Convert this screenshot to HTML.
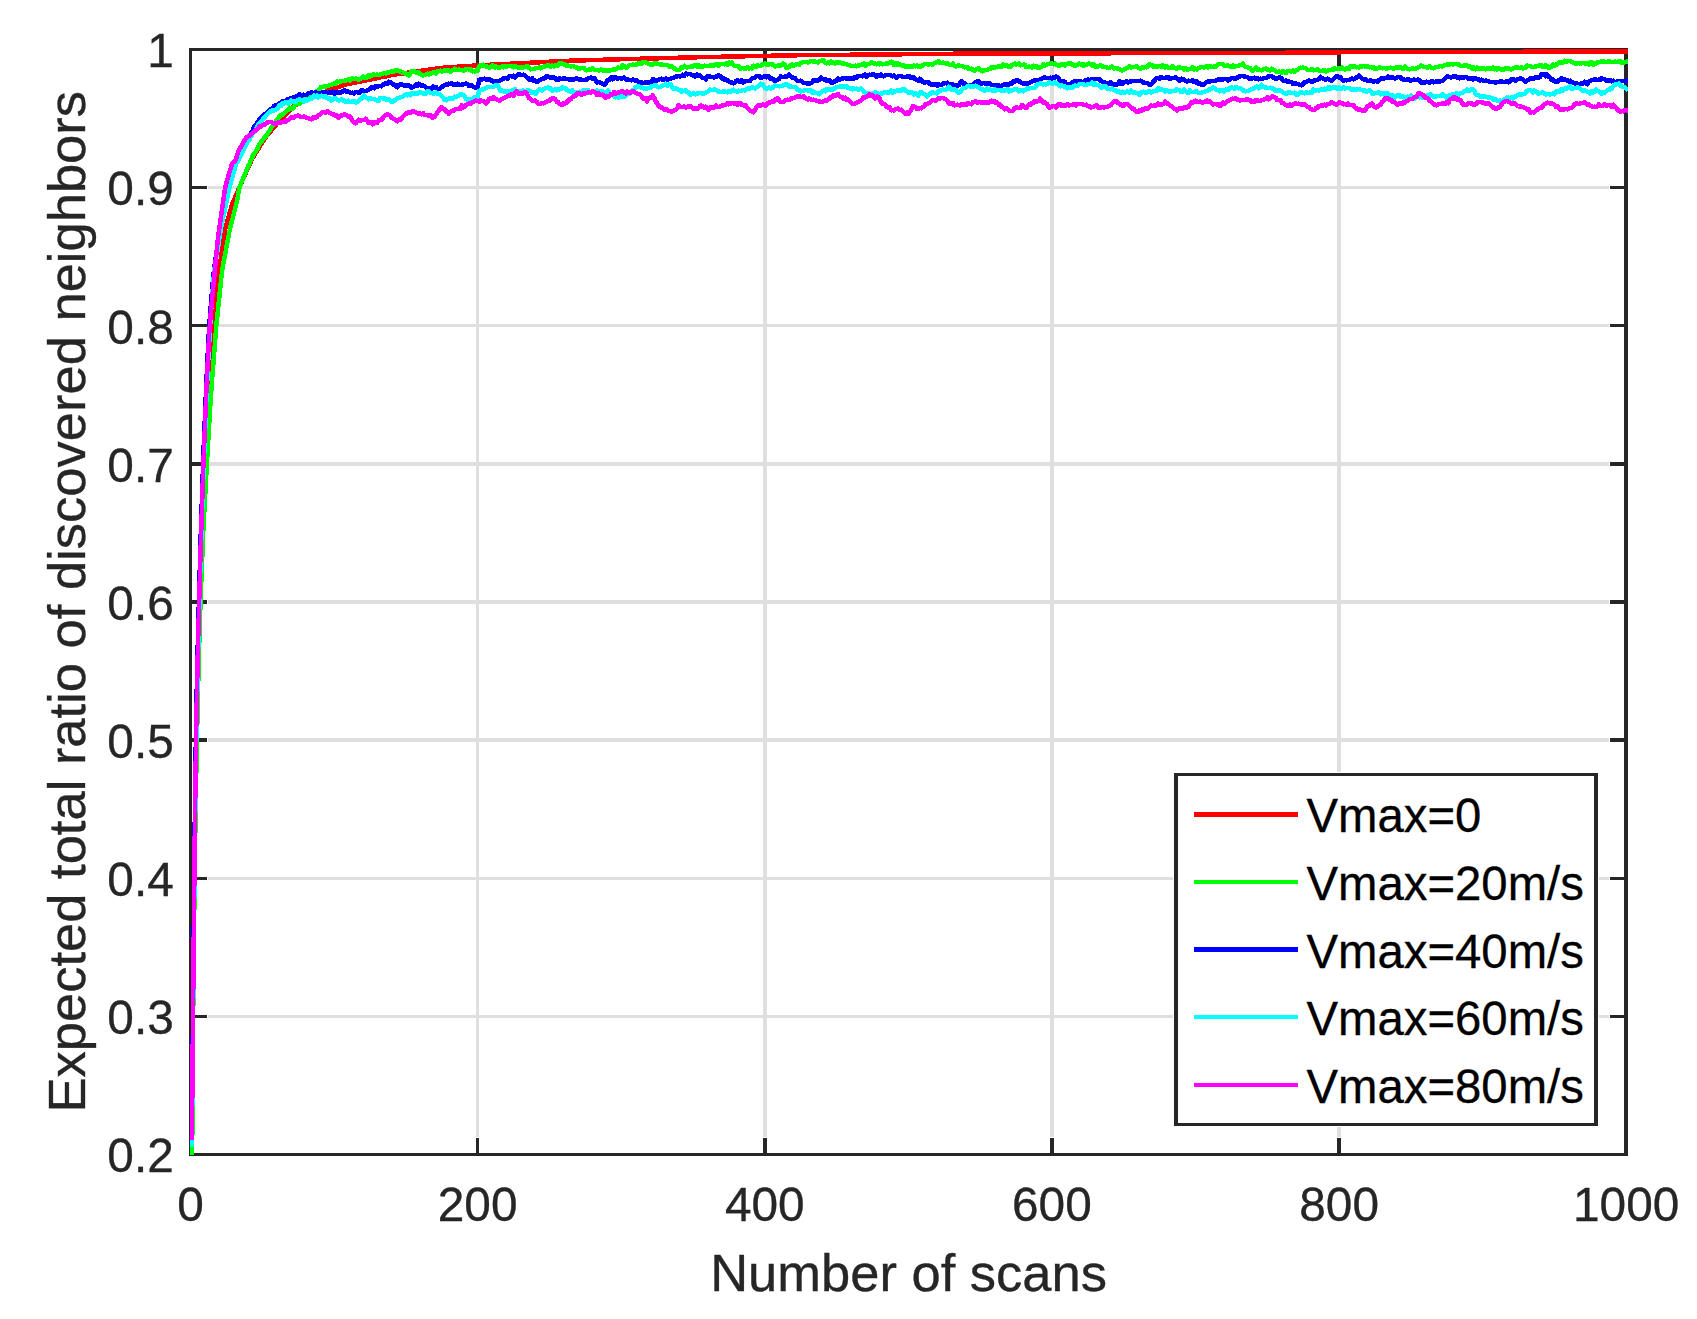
<!DOCTYPE html>
<html lang="en"><head><meta charset="utf-8"><title>Expected total ratio of discovered neighbors</title>
<style>html,body{margin:0;padding:0;background:#fff;}body{width:1697px;height:1319px;overflow:hidden;}svg{display:block;}text{font-family:"Liberation Sans",Arial,Helvetica,sans-serif;}</style></head><body>
<svg width="1697" height="1319" viewBox="0 0 1697 1319">
<rect x="0" y="0" width="1697" height="1319" fill="#ffffff"/>
<g fill="#dfdfdf">
<rect x="476" y="67" width="3" height="1070"/>
<rect x="763" y="67" width="4" height="1070"/>
<rect x="1050" y="67" width="4" height="1070"/>
<rect x="1337" y="67" width="4" height="1070"/>
<rect x="208" y="1015" width="1401" height="3"/>
<rect x="208" y="877" width="1401" height="3"/>
<rect x="208" y="738" width="1401" height="4"/>
<rect x="208" y="600" width="1401" height="4"/>
<rect x="208" y="462" width="1401" height="4"/>
<rect x="208" y="324" width="1401" height="3"/>
<rect x="208" y="186" width="1401" height="3"/>
</g>
<g fill="#262626">
<rect x="189" y="48" width="3" height="1108"/>
<rect x="189" y="48" width="1439" height="3"/>
<rect x="189" y="1153" width="1439" height="3"/>
<rect x="1624" y="48" width="4" height="1108"/>
<rect x="476" y="1138" width="3" height="18"/>
<rect x="476" y="48" width="3" height="18"/>
<rect x="763" y="1138" width="4" height="18"/>
<rect x="763" y="48" width="4" height="18"/>
<rect x="1050" y="1138" width="4" height="18"/>
<rect x="1050" y="48" width="4" height="18"/>
<rect x="1337" y="1138" width="4" height="18"/>
<rect x="1337" y="48" width="4" height="18"/>
<rect x="189" y="1015" width="18" height="3"/>
<rect x="1610" y="1015" width="18" height="3"/>
<rect x="189" y="877" width="18" height="3"/>
<rect x="1610" y="877" width="18" height="3"/>
<rect x="189" y="738" width="18" height="4"/>
<rect x="1610" y="738" width="18" height="4"/>
<rect x="189" y="600" width="18" height="4"/>
<rect x="1610" y="600" width="18" height="4"/>
<rect x="189" y="462" width="18" height="4"/>
<rect x="1610" y="462" width="18" height="4"/>
<rect x="189" y="324" width="18" height="3"/>
<rect x="1610" y="324" width="18" height="3"/>
<rect x="189" y="186" width="18" height="3"/>
<rect x="1610" y="186" width="18" height="3"/>
</g>
<defs><clipPath id="axclip"><rect x="189" y="48" width="1439" height="1107"/></clipPath></defs>
<g fill="none" stroke-width="4.5" stroke-linejoin="round" stroke-linecap="square" shape-rendering="crispEdges" clip-path="url(#axclip)">
<polyline stroke="#ff0000" points="191.9,1133.8 193.4,974.9 194.8,843.7 196.2,746.3 197.7,675.9 199.1,622.1 200.5,574.4 202.0,529.3 203.4,493.0 204.9,458.6 206.3,432.0 207.7,405.4 209.2,383.3 210.6,364.1 212.0,344.9 213.5,325.7 214.9,311.9 216.3,298.1 217.8,284.3 219.2,270.5 220.6,260.2 222.1,250.0 223.5,239.7 225.0,229.9 226.4,224.8 227.8,219.6 229.3,214.5 230.7,209.3 232.1,204.2 233.6,200.9 235.0,197.6 236.4,194.3 237.9,190.9 239.3,187.6 240.7,184.4 242.2,181.2 243.6,178.0 245.1,174.7 246.5,171.5 247.9,168.3 249.4,165.1 250.8,161.8 252.2,158.6 253.7,156.3 255.1,154.0 256.5,151.7 258.0,149.4 259.4,147.1 260.8,144.8 262.3,142.5 263.7,140.2 265.2,137.9 266.6,136.2 268.0,134.4 269.5,132.7 270.9,131.0 272.3,129.3 273.8,127.5 275.2,125.8 276.6,124.1 278.1,122.4 279.5,120.6 280.9,119.2 282.4,117.7 283.8,116.2 285.3,114.7 286.7,113.2 288.1,111.8 289.6,110.3 291.0,108.8 292.4,107.3 293.9,105.9 295.3,105.2 296.7,104.5 298.2,103.8 299.6,103.2 301.0,102.5 302.5,101.8 303.9,101.1 305.4,100.5 306.8,99.8 308.2,99.1 309.7,98.4 311.1,97.8 312.5,97.1 314.0,96.4 315.4,95.7 316.8,95.1 318.3,94.4 319.7,93.7 321.1,93.2 322.6,92.7 324.0,92.2 325.5,91.6 326.9,91.1 328.3,90.6 329.8,90.1 331.2,89.6 332.6,89.1 334.1,88.6 335.5,88.0 336.9,87.5 338.4,87.0 339.8,86.5 341.2,86.0 342.7,85.5 344.1,85.0 345.6,84.4 347.0,84.2 348.4,83.9 349.9,83.6 351.3,83.3 352.7,83.0 354.2,82.7 355.6,82.4 357.0,82.1 358.5,81.9 359.9,81.6 361.3,81.3 362.8,81.0 364.2,80.7 365.7,80.4 367.1,80.1 368.5,79.8 370.0,79.5 371.4,79.3 372.8,79.0 374.3,78.7 375.7,78.4 377.1,78.1 378.6,77.8 380.0,77.5 381.4,77.2 382.9,77.0 384.3,76.7 385.8,76.4 387.2,76.1 388.6,75.8 390.1,75.5 391.5,75.2 392.9,74.9 394.4,74.7 395.8,74.4 397.2,74.2 398.7,74.0 400.1,73.8 401.5,73.6 403.0,73.4 404.4,73.2 405.9,72.9 407.3,72.7 408.7,72.5 410.2,72.3 411.6,72.1 413.0,71.9 414.5,71.7 415.9,71.5 417.3,71.3 418.8,71.1 420.2,70.9 421.6,70.7 423.1,70.5 424.5,70.3 426.0,70.1 427.4,69.9 428.8,69.7 430.3,69.5 431.7,69.3 433.1,69.1 434.6,68.9 436.0,68.7 437.4,68.5 438.9,68.3 440.3,68.1 441.7,67.9 443.2,67.7 444.6,67.5 446.1,67.5 447.5,67.4 448.9,67.3 450.4,67.2 451.8,67.1 453.2,67.0 454.7,66.9 456.1,66.8 457.5,66.7 459.0,66.6 460.4,66.5 461.8,66.4 463.3,66.3 464.7,66.2 466.2,66.1 467.6,66.0 469.0,65.9 470.5,65.9 471.9,65.8 473.3,65.7 474.8,65.6 476.2,65.5 477.6,65.4 479.1,65.3 480.5,65.2 481.9,65.2 483.4,65.1 484.8,65.0 486.3,64.9 487.7,64.9 489.1,64.8 490.6,64.7 492.0,64.7 493.4,64.6 494.9,64.5 496.3,64.4 497.7,64.4 499.2,64.3 500.6,64.2 502.0,64.1 503.5,64.1 504.9,64.0 506.4,63.9 507.8,63.9 509.2,63.8 510.7,63.7 512.1,63.6 513.5,63.6 515.0,63.5 516.4,63.4 517.8,63.3 519.3,63.3 520.7,63.2 522.1,63.1 523.6,63.1 525.0,63.0 526.5,62.9 527.9,62.8 529.3,62.8 530.8,62.7 532.2,62.6 533.6,62.5 535.1,62.5 536.5,62.4 537.9,62.3 539.4,62.3 540.8,62.2 542.2,62.1 543.7,62.0 545.1,62.0 546.6,61.9 548.0,61.8 549.4,61.7 550.9,61.7 552.3,61.6 553.7,61.5 555.2,61.5 556.6,61.4 558.0,61.3 559.5,61.2 560.9,61.2 562.3,61.1 563.8,61.0 565.2,60.9 566.7,60.9 568.1,60.8 569.5,60.7 571.0,60.7 572.4,60.6 573.8,60.6 575.3,60.5 576.7,60.5 578.1,60.5 579.6,60.4 581.0,60.4 582.4,60.3 583.9,60.3 585.3,60.3 586.8,60.2 588.2,60.2 589.6,60.1 591.1,60.1 592.5,60.1 593.9,60.0 595.4,60.0 596.8,59.9 598.2,59.9 599.7,59.9 601.1,59.8 602.5,59.8 604.0,59.7 605.4,59.7 606.9,59.7 608.3,59.6 609.7,59.6 611.2,59.5 612.6,59.5 614.0,59.5 615.5,59.4 616.9,59.4 618.3,59.3 619.8,59.3 621.2,59.2 622.6,59.2 624.1,59.2 625.5,59.1 627.0,59.1 628.4,59.1 629.8,59.0 631.3,59.0 632.7,58.9 634.1,58.9 635.6,58.9 637.0,58.8 638.4,58.8 639.9,58.8 641.3,58.7 642.7,58.7 644.2,58.6 645.6,58.6 647.1,58.6 648.5,58.5 649.9,58.5 651.4,58.4 652.8,58.4 654.2,58.4 655.7,58.3 657.1,58.3 658.5,58.3 660.0,58.2 661.4,58.2 662.8,58.1 664.3,58.1 665.7,58.1 667.2,58.0 668.6,58.0 670.0,58.0 671.5,57.9 672.9,57.9 674.3,57.8 675.8,57.8 677.2,57.8 678.6,57.7 680.1,57.7 681.5,57.6 682.9,57.6 684.4,57.6 685.8,57.5 687.3,57.5 688.7,57.5 690.1,57.4 691.6,57.4 693.0,57.3 694.4,57.3 695.9,57.3 697.3,57.2 698.7,57.2 700.2,57.2 701.6,57.1 703.0,57.1 704.5,57.1 705.9,57.0 707.4,57.0 708.8,57.0 710.2,57.0 711.7,56.9 713.1,56.9 714.5,56.9 716.0,56.8 717.4,56.8 718.8,56.8 720.3,56.8 721.7,56.7 723.1,56.7 724.6,56.7 726.0,56.6 727.5,56.6 728.9,56.6 730.3,56.6 731.8,56.5 733.2,56.5 734.6,56.5 736.1,56.4 737.5,56.4 738.9,56.4 740.4,56.4 741.8,56.3 743.2,56.3 744.7,56.3 746.1,56.2 747.6,56.2 749.0,56.2 750.4,56.2 751.9,56.1 753.3,56.1 754.7,56.1 756.2,56.1 757.6,56.0 759.0,56.0 760.5,56.0 761.9,55.9 763.3,55.9 764.8,55.9 766.2,55.9 767.7,55.8 769.1,55.8 770.5,55.8 772.0,55.7 773.4,55.7 774.8,55.7 776.3,55.7 777.7,55.6 779.1,55.6 780.6,55.6 782.0,55.5 783.4,55.5 784.9,55.5 786.3,55.5 787.8,55.4 789.2,55.4 790.6,55.4 792.1,55.3 793.5,55.3 794.9,55.3 796.4,55.3 797.8,55.2 799.2,55.2 800.7,55.2 802.1,55.2 803.5,55.2 805.0,55.2 806.4,55.1 807.9,55.1 809.3,55.1 810.7,55.1 812.2,55.1 813.6,55.1 815.0,55.1 816.5,55.1 817.9,55.0 819.3,55.0 820.8,55.0 822.2,55.0 823.6,55.0 825.1,55.0 826.5,55.0 828.0,55.0 829.4,54.9 830.8,54.9 832.3,54.9 833.7,54.9 835.1,54.9 836.6,54.9 838.0,54.9 839.4,54.9 840.9,54.8 842.3,54.8 843.7,54.8 845.2,54.8 846.6,54.8 848.1,54.8 849.5,54.8 850.9,54.7 852.4,54.7 853.8,54.7 855.2,54.7 856.7,54.7 858.1,54.7 859.5,54.7 861.0,54.6 862.4,54.6 863.8,54.6 865.3,54.6 866.7,54.6 868.2,54.6 869.6,54.6 871.0,54.6 872.5,54.5 873.9,54.5 875.3,54.5 876.8,54.5 878.2,54.5 879.6,54.5 881.1,54.5 882.5,54.4 883.9,54.4 885.4,54.4 886.8,54.4 888.3,54.4 889.7,54.4 891.1,54.4 892.6,54.3 894.0,54.3 895.4,54.3 896.9,54.3 898.3,54.3 899.7,54.3 901.2,54.3 902.6,54.2 904.0,54.2 905.5,54.2 906.9,54.2 908.4,54.2 909.8,54.2 911.2,54.2 912.7,54.1 914.1,54.1 915.5,54.1 917.0,54.1 918.4,54.1 919.8,54.1 921.3,54.1 922.7,54.0 924.1,54.0 925.6,54.0 927.0,54.0 928.4,54.0 929.9,54.0 931.3,54.0 932.8,54.0 934.2,53.9 935.6,53.9 937.1,53.9 938.5,53.9 939.9,53.9 941.4,53.9 942.8,53.9 944.2,53.8 945.7,53.8 947.1,53.8 948.5,53.8 950.0,53.8 951.4,53.8 952.9,53.8 954.3,53.7 955.7,53.7 957.2,53.7 958.6,53.7 960.0,53.7 961.5,53.7 962.9,53.7 964.3,53.7 965.8,53.7 967.2,53.7 968.6,53.7 970.1,53.7 971.5,53.7 973.0,53.7 974.4,53.7 975.8,53.7 977.3,53.7 978.7,53.7 980.1,53.7 981.6,53.7 983.0,53.7 984.4,53.7 985.9,53.6 987.3,53.6 988.7,53.6 990.2,53.6 991.6,53.6 993.1,53.6 994.5,53.6 995.9,53.6 997.4,53.6 998.8,53.6 1000.2,53.6 1001.7,53.6 1003.1,53.6 1004.5,53.6 1006.0,53.6 1007.4,53.6 1008.8,53.6 1010.3,53.6 1011.7,53.6 1013.2,53.6 1014.6,53.6 1016.0,53.6 1017.5,53.5 1018.9,53.5 1020.3,53.5 1021.8,53.5 1023.2,53.5 1024.6,53.5 1026.1,53.5 1027.5,53.5 1028.9,53.5 1030.4,53.5 1031.8,53.5 1033.3,53.5 1034.7,53.5 1036.1,53.5 1037.6,53.5 1039.0,53.5 1040.4,53.5 1041.9,53.5 1043.3,53.5 1044.7,53.5 1046.2,53.5 1047.6,53.5 1049.0,53.4 1050.5,53.4 1051.9,53.4 1053.4,53.4 1054.8,53.4 1056.2,53.4 1057.7,53.4 1059.1,53.4 1060.5,53.4 1062.0,53.4 1063.4,53.4 1064.8,53.4 1066.3,53.4 1067.7,53.4 1069.1,53.4 1070.6,53.4 1072.0,53.4 1073.5,53.4 1074.9,53.4 1076.3,53.4 1077.8,53.4 1079.2,53.4 1080.6,53.3 1082.1,53.3 1083.5,53.3 1084.9,53.3 1086.4,53.3 1087.8,53.3 1089.2,53.3 1090.7,53.3 1092.1,53.3 1093.6,53.3 1095.0,53.3 1096.4,53.3 1097.9,53.3 1099.3,53.3 1100.7,53.3 1102.2,53.3 1103.6,53.3 1105.0,53.3 1106.5,53.3 1107.9,53.3 1109.3,53.3 1110.8,53.3 1112.2,53.2 1113.7,53.2 1115.1,53.2 1116.5,53.2 1118.0,53.2 1119.4,53.2 1120.8,53.2 1122.3,53.2 1123.7,53.2 1125.1,53.2 1126.6,53.2 1128.0,53.2 1129.4,53.2 1130.9,53.2 1132.3,53.2 1133.8,53.2 1135.2,53.2 1136.6,53.2 1138.1,53.2 1139.5,53.2 1140.9,53.2 1142.4,53.2 1143.8,53.2 1145.2,53.2 1146.7,53.1 1148.1,53.1 1149.5,53.1 1151.0,53.1 1152.4,53.1 1153.9,53.1 1155.3,53.1 1156.7,53.1 1158.2,53.1 1159.6,53.1 1161.0,53.1 1162.5,53.1 1163.9,53.1 1165.3,53.1 1166.8,53.1 1168.2,53.1 1169.6,53.1 1171.1,53.1 1172.5,53.1 1174.0,53.1 1175.4,53.1 1176.8,53.1 1178.3,53.1 1179.7,53.1 1181.1,53.0 1182.6,53.0 1184.0,53.0 1185.4,53.0 1186.9,53.0 1188.3,53.0 1189.7,53.0 1191.2,53.0 1192.6,53.0 1194.1,53.0 1195.5,53.0 1196.9,53.0 1198.4,53.0 1199.8,53.0 1201.2,53.0 1202.7,53.0 1204.1,53.0 1205.5,53.0 1207.0,53.0 1208.4,53.0 1209.8,53.0 1211.3,53.0 1212.7,53.0 1214.2,53.0 1215.6,52.9 1217.0,52.9 1218.5,52.9 1219.9,52.9 1221.3,52.9 1222.8,52.9 1224.2,52.9 1225.6,52.9 1227.1,52.9 1228.5,52.9 1229.9,52.9 1231.4,52.9 1232.8,52.9 1234.3,52.9 1235.7,52.9 1237.1,52.9 1238.6,52.9 1240.0,52.9 1241.4,52.9 1242.9,52.9 1244.3,52.9 1245.7,52.9 1247.2,52.9 1248.6,52.9 1250.0,52.8 1251.5,52.8 1252.9,52.8 1254.4,52.8 1255.8,52.8 1257.2,52.8 1258.7,52.8 1260.1,52.8 1261.5,52.8 1263.0,52.8 1264.4,52.8 1265.8,52.8 1267.3,52.8 1268.7,52.8 1270.1,52.8 1271.6,52.8 1273.0,52.8 1274.5,52.8 1275.9,52.8 1277.3,52.8 1278.8,52.8 1280.2,52.8 1281.6,52.8 1283.1,52.8 1284.5,52.8 1285.9,52.7 1287.4,52.7 1288.8,52.7 1290.2,52.7 1291.7,52.7 1293.1,52.7 1294.6,52.7 1296.0,52.7 1297.4,52.6 1298.9,52.6 1300.3,52.6 1301.7,52.6 1303.2,52.6 1304.6,52.6 1306.0,52.6 1307.5,52.6 1308.9,52.5 1310.3,52.5 1311.8,52.5 1313.2,52.5 1314.7,52.5 1316.1,52.5 1317.5,52.5 1319.0,52.5 1320.4,52.4 1321.8,52.4 1323.3,52.4 1324.7,52.4 1326.1,52.4 1327.6,52.4 1329.0,52.4 1330.4,52.3 1331.9,52.3 1333.3,52.3 1334.8,52.3 1336.2,52.3 1337.6,52.3 1339.1,52.3 1340.5,52.3 1341.9,52.2 1343.4,52.2 1344.8,52.2 1346.2,52.2 1347.7,52.2 1349.1,52.2 1350.5,52.2 1352.0,52.2 1353.4,52.2 1354.9,52.2 1356.3,52.2 1357.7,52.2 1359.2,52.2 1360.6,52.2 1362.0,52.2 1363.5,52.2 1364.9,52.2 1366.3,52.2 1367.8,52.2 1369.2,52.2 1370.6,52.2 1372.1,52.2 1373.5,52.2 1375.0,52.1 1376.4,52.1 1377.8,52.1 1379.3,52.1 1380.7,52.1 1382.1,52.1 1383.6,52.1 1385.0,52.1 1386.4,52.1 1387.9,52.1 1389.3,52.1 1390.7,52.1 1392.2,52.1 1393.6,52.1 1395.1,52.1 1396.5,52.1 1397.9,52.1 1399.4,52.1 1400.8,52.1 1402.2,52.1 1403.7,52.1 1405.1,52.1 1406.5,52.1 1408.0,52.1 1409.4,52.1 1410.8,52.0 1412.3,52.0 1413.7,52.0 1415.2,52.0 1416.6,52.0 1418.0,52.0 1419.5,52.0 1420.9,52.0 1422.3,52.0 1423.8,52.0 1425.2,52.0 1426.6,52.0 1428.1,52.0 1429.5,52.0 1430.9,52.0 1432.4,52.0 1433.8,52.0 1435.3,52.0 1436.7,52.0 1438.1,52.0 1439.6,52.0 1441.0,52.0 1442.4,52.0 1443.9,52.0 1445.3,52.0 1446.7,51.9 1448.2,51.9 1449.6,51.9 1451.0,51.9 1452.5,51.9 1453.9,51.9 1455.4,51.9 1456.8,51.9 1458.2,51.9 1459.7,51.9 1461.1,51.9 1462.5,51.9 1464.0,51.9 1465.4,51.9 1466.8,51.9 1468.3,51.9 1469.7,51.9 1471.1,51.9 1472.6,51.9 1474.0,51.9 1475.5,51.9 1476.9,51.9 1478.3,51.9 1479.8,51.9 1481.2,51.9 1482.6,51.8 1484.1,51.8 1485.5,51.8 1486.9,51.8 1488.4,51.8 1489.8,51.8 1491.2,51.8 1492.7,51.8 1494.1,51.8 1495.6,51.8 1497.0,51.8 1498.4,51.8 1499.9,51.8 1501.3,51.8 1502.7,51.8 1504.2,51.8 1505.6,51.8 1507.0,51.8 1508.5,51.8 1509.9,51.8 1511.3,51.8 1512.8,51.8 1514.2,51.8 1515.7,51.8 1517.1,51.8 1518.5,51.8 1520.0,51.8 1521.4,51.8 1522.8,51.8 1524.3,51.7 1525.7,51.7 1527.1,51.7 1528.6,51.7 1530.0,51.7 1531.4,51.7 1532.9,51.7 1534.3,51.7 1535.8,51.7 1537.2,51.7 1538.6,51.7 1540.1,51.7 1541.5,51.7 1542.9,51.7 1544.4,51.7 1545.8,51.7 1547.2,51.7 1548.7,51.7 1550.1,51.7 1551.5,51.7 1553.0,51.7 1554.4,51.7 1555.9,51.7 1557.3,51.7 1558.7,51.7 1560.2,51.7 1561.6,51.7 1563.0,51.7 1564.5,51.7 1565.9,51.6 1567.3,51.6 1568.8,51.6 1570.2,51.6 1571.6,51.6 1573.1,51.6 1574.5,51.6 1576.0,51.6 1577.4,51.6 1578.8,51.6 1580.3,51.6 1581.7,51.6 1583.1,51.6 1584.6,51.6 1586.0,51.6 1587.4,51.6 1588.9,51.6 1590.3,51.6 1591.7,51.6 1593.2,51.6 1594.6,51.6 1596.1,51.6 1597.5,51.6 1598.9,51.6 1600.4,51.6 1601.8,51.6 1603.2,51.6 1604.7,51.6 1606.1,51.6 1607.5,51.5 1609.0,51.5 1610.4,51.5 1611.8,51.5 1613.3,51.5 1614.7,51.5 1616.2,51.5 1617.6,51.5 1619.0,51.5 1620.5,51.5 1621.9,51.5 1623.3,51.5 1624.8,51.5 1626.2,51.5"/>
<polyline stroke="#00ff00" points="191.9,1182.1 193.4,988.7 194.8,861.0 196.2,776.5 197.7,702.5 199.1,648.0 200.5,602.0 202.0,563.6 203.4,527.6 204.9,501.1 206.3,474.5 207.7,449.1 209.2,424.4 210.6,399.7 212.0,380.3 213.5,362.1 214.9,343.9 216.3,325.7 217.8,311.9 219.2,298.1 220.6,284.3 222.1,270.5 223.5,262.8 225.0,255.1 226.4,247.4 227.8,239.7 229.3,232.0 230.7,225.9 232.1,220.4 233.6,214.7 235.0,209.1 236.4,203.5 237.9,196.3 239.3,188.1 240.7,184.3 242.2,180.9 243.6,177.3 245.1,174.1 246.5,170.3 247.9,166.7 249.4,163.9 250.8,160.3 252.2,157.1 253.7,154.1 255.1,152.4 256.5,150.4 258.0,147.6 259.4,144.5 260.8,142.4 262.3,140.7 263.7,138.7 265.2,136.5 266.6,135.4 268.0,133.1 269.5,130.7 270.9,128.1 272.3,126.3 273.8,123.6 275.2,122.2 276.6,120.1 278.1,119.1 279.5,116.4 280.9,115.2 282.4,114.6 283.8,113.6 285.3,112.5 286.7,110.9 288.1,109.9 289.6,107.6 291.0,108.6 292.4,109.1 293.9,107.1 295.3,105.3 296.7,103.2 298.2,102.5 299.6,103.9 301.0,101.8 302.5,99.9 303.9,100.1 305.4,97.5 306.8,97.1 308.2,96.6 309.7,95.5 311.1,94.5 312.5,93.0 314.0,93.0 315.4,92.5 316.8,91.2 318.3,90.1 319.7,89.4 321.1,86.8 322.6,86.8 324.0,86.6 325.5,86.8 326.9,86.1 328.3,85.7 329.8,85.3 331.2,84.7 332.6,84.2 334.1,83.4 335.5,83.5 336.9,81.3 338.4,82.2 339.8,81.7 341.2,81.5 342.7,81.0 344.1,80.7 345.6,80.4 347.0,80.3 348.4,79.2 349.9,80.5 351.3,79.1 352.7,78.4 354.2,79.2 355.6,78.5 357.0,79.0 358.5,79.6 359.9,79.1 361.3,78.0 362.8,76.6 364.2,77.6 365.7,77.1 367.1,77.5 368.5,74.9 370.0,76.6 371.4,75.7 372.8,74.5 374.3,74.6 375.7,75.2 377.1,74.5 378.6,75.2 380.0,74.6 381.4,74.0 382.9,73.8 384.3,72.9 385.8,73.4 387.2,72.4 388.6,72.9 390.1,72.0 391.5,71.3 392.9,71.8 394.4,71.2 395.8,70.1 397.2,70.3 398.7,71.2 400.1,71.2 401.5,72.5 403.0,72.6 404.4,73.3 405.9,73.3 407.3,74.4 408.7,75.6 410.2,73.5 411.6,71.2 413.0,71.8 414.5,71.5 415.9,72.3 417.3,72.7 418.8,72.6 420.2,74.2 421.6,74.9 423.1,75.6 424.5,75.1 426.0,74.7 427.4,73.6 428.8,74.4 430.3,73.4 431.7,73.3 433.1,72.2 434.6,72.6 436.0,73.3 437.4,71.5 438.9,71.2 440.3,70.7 441.7,71.4 443.2,71.2 444.6,70.4 446.1,70.8 447.5,70.5 448.9,70.2 450.4,71.6 451.8,70.5 453.2,69.9 454.7,68.7 456.1,69.4 457.5,70.0 459.0,69.6 460.4,69.9 461.8,69.8 463.3,70.7 464.7,70.0 466.2,69.1 467.6,69.1 469.0,69.5 470.5,69.0 471.9,71.3 473.3,71.2 474.8,71.4 476.2,70.3 477.6,70.8 479.1,66.2 480.5,65.3 481.9,66.0 483.4,64.8 484.8,66.0 486.3,66.4 487.7,66.7 489.1,67.8 490.6,67.5 492.0,65.2 493.4,66.0 494.9,67.6 496.3,66.6 497.7,67.2 499.2,68.1 500.6,67.2 502.0,66.5 503.5,67.4 504.9,66.0 506.4,66.7 507.8,66.3 509.2,66.1 510.7,65.8 512.1,66.5 513.5,67.4 515.0,66.0 516.4,67.2 517.8,67.2 519.3,68.0 520.7,66.9 522.1,67.4 523.6,67.3 525.0,66.9 526.5,66.5 527.9,66.6 529.3,68.3 530.8,69.3 532.2,69.2 533.6,69.2 535.1,68.7 536.5,67.9 537.9,68.1 539.4,67.1 540.8,68.3 542.2,67.1 543.7,66.5 545.1,66.6 546.6,65.6 548.0,65.0 549.4,66.3 550.9,66.4 552.3,65.5 553.7,66.6 555.2,65.3 556.6,65.1 558.0,65.7 559.5,63.0 560.9,62.8 562.3,63.5 563.8,64.2 565.2,64.8 566.7,66.2 568.1,65.3 569.5,66.1 571.0,66.4 572.4,66.2 573.8,66.3 575.3,67.2 576.7,67.5 578.1,68.4 579.6,68.8 581.0,68.0 582.4,68.1 583.9,68.0 585.3,69.6 586.8,70.3 588.2,70.0 589.6,69.0 591.1,69.4 592.5,68.2 593.9,69.7 595.4,70.2 596.8,69.9 598.2,70.3 599.7,70.3 601.1,69.6 602.5,70.1 604.0,70.7 605.4,70.7 606.9,70.4 608.3,70.6 609.7,70.6 611.2,70.2 612.6,69.9 614.0,69.3 615.5,69.4 616.9,68.3 618.3,67.6 619.8,68.0 621.2,68.2 622.6,65.3 624.1,66.2 625.5,67.2 627.0,67.6 628.4,66.2 629.8,65.0 631.3,65.1 632.7,64.6 634.1,65.1 635.6,64.6 637.0,64.6 638.4,63.4 639.9,63.0 641.3,64.1 642.7,62.1 644.2,62.1 645.6,62.2 647.1,62.8 648.5,63.6 649.9,64.5 651.4,63.8 652.8,64.8 654.2,63.3 655.7,64.0 657.1,63.5 658.5,64.0 660.0,64.7 661.4,64.0 662.8,64.9 664.3,64.9 665.7,65.0 667.2,65.1 668.6,66.1 670.0,67.2 671.5,66.2 672.9,67.3 674.3,68.4 675.8,69.4 677.2,70.0 678.6,70.2 680.1,69.2 681.5,67.5 682.9,67.6 684.4,65.8 685.8,67.3 687.3,67.3 688.7,67.1 690.1,67.1 691.6,66.3 693.0,66.4 694.4,65.4 695.9,65.4 697.3,66.9 698.7,65.2 700.2,66.6 701.6,66.5 703.0,66.4 704.5,65.7 705.9,66.2 707.4,65.8 708.8,65.9 710.2,65.2 711.7,66.2 713.1,65.0 714.5,65.4 716.0,64.1 717.4,64.2 718.8,65.8 720.3,64.5 721.7,63.8 723.1,64.0 724.6,64.3 726.0,63.2 727.5,64.5 728.9,62.3 730.3,64.0 731.8,62.6 733.2,64.8 734.6,66.1 736.1,66.1 737.5,65.8 738.9,66.8 740.4,68.9 741.8,68.2 743.2,68.3 744.7,68.7 746.1,68.5 747.6,67.1 749.0,68.4 750.4,67.8 751.9,68.7 753.3,65.7 754.7,66.7 756.2,66.9 757.6,65.2 759.0,65.8 760.5,65.8 761.9,64.7 763.3,64.5 764.8,63.4 766.2,64.6 767.7,64.2 769.1,64.7 770.5,63.9 772.0,64.3 773.4,64.8 774.8,66.5 776.3,65.9 777.7,65.7 779.1,65.1 780.6,65.8 782.0,64.7 783.4,63.5 784.9,64.3 786.3,67.6 787.8,67.8 789.2,67.0 790.6,64.9 792.1,64.4 793.5,65.9 794.9,65.1 796.4,64.2 797.8,63.8 799.2,64.8 800.7,62.8 802.1,62.5 803.5,62.0 805.0,62.1 806.4,62.1 807.9,62.5 809.3,62.2 810.7,61.0 812.2,61.3 813.6,61.7 815.0,61.7 816.5,61.8 817.9,62.5 819.3,61.3 820.8,60.9 822.2,60.5 823.6,60.4 825.1,62.8 826.5,63.4 828.0,62.3 829.4,63.2 830.8,61.7 832.3,62.9 833.7,62.7 835.1,63.4 836.6,62.0 838.0,62.8 839.4,62.6 840.9,62.7 842.3,63.8 843.7,63.3 845.2,63.8 846.6,64.4 848.1,65.1 849.5,65.0 850.9,65.9 852.4,66.2 853.8,65.9 855.2,65.7 856.7,66.4 858.1,65.2 859.5,65.3 861.0,64.9 862.4,64.6 863.8,63.5 865.3,65.8 866.7,64.5 868.2,64.0 869.6,64.0 871.0,62.2 872.5,62.9 873.9,63.5 875.3,63.7 876.8,64.3 878.2,63.1 879.6,64.4 881.1,63.4 882.5,64.4 883.9,64.1 885.4,63.8 886.8,63.0 888.3,63.5 889.7,62.5 891.1,61.7 892.6,61.9 894.0,64.9 895.4,64.7 896.9,63.0 898.3,64.5 899.7,64.3 901.2,65.0 902.6,65.7 904.0,65.4 905.5,66.6 906.9,65.9 908.4,66.7 909.8,66.3 911.2,66.4 912.7,66.6 914.1,65.6 915.5,66.5 917.0,65.6 918.4,66.5 919.8,66.7 921.3,66.6 922.7,65.4 924.1,64.5 925.6,64.1 927.0,64.1 928.4,64.7 929.9,63.9 931.3,63.8 932.8,64.7 934.2,63.0 935.6,63.0 937.1,61.7 938.5,61.4 939.9,63.1 941.4,62.9 942.8,62.5 944.2,62.8 945.7,63.5 947.1,63.2 948.5,64.4 950.0,65.3 951.4,65.1 952.9,63.6 954.3,66.1 955.7,66.5 957.2,65.9 958.6,65.2 960.0,66.2 961.5,65.8 962.9,66.5 964.3,67.3 965.8,66.8 967.2,67.3 968.6,68.7 970.1,69.0 971.5,68.6 973.0,69.9 974.4,70.8 975.8,70.0 977.3,68.7 978.7,68.3 980.1,70.1 981.6,70.5 983.0,71.3 984.4,70.0 985.9,70.0 987.3,70.0 988.7,68.8 990.2,68.8 991.6,67.2 993.1,67.7 994.5,67.7 995.9,67.3 997.4,66.8 998.8,66.2 1000.2,66.5 1001.7,67.0 1003.1,64.5 1004.5,65.5 1006.0,65.0 1007.4,66.2 1008.8,66.8 1010.3,66.9 1011.7,65.2 1013.2,64.6 1014.6,63.5 1016.0,64.5 1017.5,63.9 1018.9,63.6 1020.3,65.3 1021.8,65.2 1023.2,64.8 1024.6,64.6 1026.1,67.1 1027.5,67.1 1028.9,66.5 1030.4,67.0 1031.8,67.4 1033.3,65.7 1034.7,67.2 1036.1,66.2 1037.6,67.8 1039.0,68.3 1040.4,67.1 1041.9,66.8 1043.3,64.4 1044.7,65.6 1046.2,64.7 1047.6,64.3 1049.0,63.8 1050.5,63.5 1051.9,63.3 1053.4,64.3 1054.8,63.6 1056.2,65.0 1057.7,65.1 1059.1,65.9 1060.5,65.0 1062.0,64.0 1063.4,64.4 1064.8,65.4 1066.3,64.0 1067.7,64.1 1069.1,62.9 1070.6,63.4 1072.0,63.9 1073.5,65.5 1074.9,65.9 1076.3,64.9 1077.8,64.8 1079.2,63.5 1080.6,64.3 1082.1,64.1 1083.5,65.8 1084.9,64.7 1086.4,65.0 1087.8,64.1 1089.2,63.6 1090.7,64.4 1092.1,65.4 1093.6,64.2 1095.0,66.5 1096.4,66.5 1097.9,66.3 1099.3,66.2 1100.7,65.1 1102.2,67.0 1103.6,66.7 1105.0,66.9 1106.5,66.9 1107.9,67.8 1109.3,68.2 1110.8,67.0 1112.2,66.4 1113.7,68.4 1115.1,68.1 1116.5,67.9 1118.0,68.8 1119.4,69.3 1120.8,69.9 1122.3,70.5 1123.7,69.5 1125.1,69.0 1126.6,68.4 1128.0,67.7 1129.4,66.4 1130.9,67.5 1132.3,67.2 1133.8,67.2 1135.2,66.8 1136.6,66.5 1138.1,67.9 1139.5,67.9 1140.9,68.9 1142.4,67.5 1143.8,67.6 1145.2,66.8 1146.7,67.3 1148.1,66.0 1149.5,64.4 1151.0,65.0 1152.4,65.2 1153.9,66.9 1155.3,66.8 1156.7,66.4 1158.2,66.4 1159.6,65.8 1161.0,66.5 1162.5,65.5 1163.9,66.8 1165.3,67.6 1166.8,66.2 1168.2,67.4 1169.6,68.2 1171.1,68.1 1172.5,66.5 1174.0,67.3 1175.4,68.2 1176.8,68.5 1178.3,67.6 1179.7,67.0 1181.1,68.2 1182.6,68.3 1184.0,69.4 1185.4,68.4 1186.9,69.4 1188.3,69.4 1189.7,69.1 1191.2,69.1 1192.6,67.4 1194.1,69.4 1195.5,68.7 1196.9,69.6 1198.4,67.8 1199.8,67.7 1201.2,66.8 1202.7,66.9 1204.1,67.4 1205.5,67.0 1207.0,66.2 1208.4,67.5 1209.8,66.2 1211.3,66.6 1212.7,67.0 1214.2,66.6 1215.6,66.7 1217.0,65.2 1218.5,64.3 1219.9,64.2 1221.3,64.2 1222.8,64.1 1224.2,65.4 1225.6,66.2 1227.1,65.5 1228.5,65.5 1229.9,66.4 1231.4,66.7 1232.8,65.5 1234.3,66.6 1235.7,65.9 1237.1,65.8 1238.6,65.8 1240.0,65.2 1241.4,65.2 1242.9,63.5 1244.3,65.9 1245.7,66.7 1247.2,67.3 1248.6,67.8 1250.0,68.1 1251.5,70.1 1252.9,70.9 1254.4,69.2 1255.8,67.7 1257.2,69.7 1258.7,69.7 1260.1,69.8 1261.5,70.3 1263.0,69.4 1264.4,69.2 1265.8,68.6 1267.3,69.9 1268.7,69.7 1270.1,70.4 1271.6,68.8 1273.0,70.1 1274.5,70.4 1275.9,71.4 1277.3,72.1 1278.8,71.6 1280.2,72.0 1281.6,72.7 1283.1,70.8 1284.5,72.2 1285.9,73.1 1287.4,71.0 1288.8,71.0 1290.2,71.3 1291.7,71.3 1293.1,70.5 1294.6,71.6 1296.0,70.5 1297.4,69.9 1298.9,68.6 1300.3,67.7 1301.7,67.8 1303.2,67.7 1304.6,68.2 1306.0,68.5 1307.5,69.8 1308.9,69.8 1310.3,70.1 1311.8,68.9 1313.2,70.3 1314.7,70.0 1316.1,70.1 1317.5,69.1 1319.0,70.5 1320.4,70.9 1321.8,71.0 1323.3,70.3 1324.7,70.2 1326.1,71.4 1327.6,70.9 1329.0,70.1 1330.4,69.9 1331.9,69.5 1333.3,69.9 1334.8,68.3 1336.2,68.8 1337.6,68.7 1339.1,68.5 1340.5,69.0 1341.9,67.4 1343.4,69.0 1344.8,69.5 1346.2,68.5 1347.7,68.0 1349.1,68.9 1350.5,66.2 1352.0,66.4 1353.4,66.6 1354.9,66.3 1356.3,67.4 1357.7,67.2 1359.2,67.5 1360.6,65.9 1362.0,66.6 1363.5,66.0 1364.9,66.3 1366.3,66.5 1367.8,66.6 1369.2,67.3 1370.6,66.8 1372.1,67.5 1373.5,67.4 1375.0,69.1 1376.4,68.8 1377.8,68.0 1379.3,67.5 1380.7,67.9 1382.1,68.3 1383.6,68.1 1385.0,67.8 1386.4,68.5 1387.9,68.3 1389.3,68.1 1390.7,67.7 1392.2,67.9 1393.6,68.7 1395.1,67.8 1396.5,67.3 1397.9,67.4 1399.4,67.4 1400.8,67.6 1402.2,68.8 1403.7,68.5 1405.1,66.7 1406.5,68.3 1408.0,69.0 1409.4,69.3 1410.8,69.1 1412.3,68.3 1413.7,68.9 1415.2,69.0 1416.6,68.3 1418.0,67.7 1419.5,66.6 1420.9,65.5 1422.3,66.1 1423.8,66.8 1425.2,67.0 1426.6,67.4 1428.1,67.6 1429.5,66.3 1430.9,67.5 1432.4,67.8 1433.8,68.3 1435.3,67.5 1436.7,67.0 1438.1,66.7 1439.6,66.3 1441.0,65.8 1442.4,66.5 1443.9,65.3 1445.3,64.9 1446.7,64.7 1448.2,64.5 1449.6,64.7 1451.0,64.0 1452.5,64.4 1453.9,64.2 1455.4,64.0 1456.8,64.1 1458.2,64.2 1459.7,65.5 1461.1,66.1 1462.5,65.8 1464.0,65.7 1465.4,65.2 1466.8,65.4 1468.3,66.9 1469.7,66.3 1471.1,66.9 1472.6,68.7 1474.0,67.5 1475.5,69.4 1476.9,67.6 1478.3,68.6 1479.8,69.2 1481.2,67.8 1482.6,69.0 1484.1,68.6 1485.5,69.4 1486.9,68.4 1488.4,68.1 1489.8,68.6 1491.2,68.9 1492.7,67.6 1494.1,69.3 1495.6,68.4 1497.0,69.4 1498.4,68.1 1499.9,68.7 1501.3,69.8 1502.7,69.6 1504.2,69.3 1505.6,68.4 1507.0,68.7 1508.5,68.3 1509.9,69.0 1511.3,69.6 1512.8,68.7 1514.2,68.1 1515.7,67.2 1517.1,67.4 1518.5,67.8 1520.0,68.2 1521.4,67.1 1522.8,68.5 1524.3,67.7 1525.7,67.7 1527.1,65.6 1528.6,65.8 1530.0,66.3 1531.4,66.6 1532.9,67.1 1534.3,67.0 1535.8,66.4 1537.2,66.1 1538.6,65.5 1540.1,65.9 1541.5,65.0 1542.9,67.0 1544.4,67.0 1545.8,65.1 1547.2,66.1 1548.7,67.9 1550.1,67.7 1551.5,66.5 1553.0,64.6 1554.4,65.8 1555.9,64.5 1557.3,64.3 1558.7,63.3 1560.2,61.8 1561.6,62.6 1563.0,62.4 1564.5,60.7 1565.9,62.0 1567.3,61.1 1568.8,60.9 1570.2,61.3 1571.6,61.8 1573.1,62.6 1574.5,63.1 1576.0,63.9 1577.4,63.1 1578.8,62.8 1580.3,63.5 1581.7,63.2 1583.1,63.2 1584.6,63.3 1586.0,63.4 1587.4,63.6 1588.9,64.6 1590.3,62.3 1591.7,62.1 1593.2,64.8 1594.6,64.3 1596.1,62.9 1597.5,62.5 1598.9,62.1 1600.4,61.6 1601.8,61.6 1603.2,61.2 1604.7,61.9 1606.1,62.1 1607.5,62.0 1609.0,61.1 1610.4,62.1 1611.8,62.2 1613.3,62.0 1614.7,61.5 1616.2,61.8 1617.6,61.9 1619.0,61.0 1620.5,61.3 1621.9,62.9 1623.3,63.1 1624.8,62.1 1626.2,61.8"/>
<polyline stroke="#0000ff" points="191.9,1133.8 193.4,963.8 194.8,818.2 196.2,715.3 197.7,647.7 199.1,594.6 200.5,542.1 202.0,496.8 203.4,454.7 204.9,417.8 206.3,383.9 207.7,354.8 209.2,325.7 210.6,308.5 212.0,291.2 213.5,274.0 214.9,263.1 216.3,253.9 217.8,244.7 219.2,235.5 220.6,226.3 222.1,219.3 223.5,212.2 225.0,205.2 226.4,198.2 227.8,191.1 229.3,185.2 230.7,180.3 232.1,175.5 233.6,170.6 235.0,165.6 236.4,162.4 237.9,159.5 239.3,156.6 240.7,153.5 242.2,150.1 243.6,147.3 245.1,144.3 246.5,141.6 247.9,138.5 249.4,135.6 250.8,133.1 252.2,131.3 253.7,127.8 255.1,125.2 256.5,123.9 258.0,121.4 259.4,119.1 260.8,117.8 262.3,116.3 263.7,114.6 265.2,114.1 266.6,112.8 268.0,111.7 269.5,109.6 270.9,108.8 272.3,108.3 273.8,106.3 275.2,105.3 276.6,106.0 278.1,104.8 279.5,103.5 280.9,102.3 282.4,101.2 283.8,101.6 285.3,101.0 286.7,99.5 288.1,100.0 289.6,99.1 291.0,97.8 292.4,97.9 293.9,96.9 295.3,96.8 296.7,96.5 298.2,97.3 299.6,94.1 301.0,96.6 302.5,94.9 303.9,94.7 305.4,95.0 306.8,94.9 308.2,93.6 309.7,93.0 311.1,92.2 312.5,93.2 314.0,94.1 315.4,92.3 316.8,93.0 318.3,93.2 319.7,93.3 321.1,93.0 322.6,92.2 324.0,92.2 325.5,91.8 326.9,92.9 328.3,92.8 329.8,92.6 331.2,92.6 332.6,91.7 334.1,93.9 335.5,93.0 336.9,92.1 338.4,92.5 339.8,92.7 341.2,92.7 342.7,91.3 344.1,90.2 345.6,91.1 347.0,91.7 348.4,91.7 349.9,92.3 351.3,93.0 352.7,92.7 354.2,93.7 355.6,92.1 357.0,92.3 358.5,92.8 359.9,92.5 361.3,90.3 362.8,90.3 364.2,91.2 365.7,91.0 367.1,90.7 368.5,89.7 370.0,89.0 371.4,87.5 372.8,86.9 374.3,88.2 375.7,86.1 377.1,86.7 378.6,86.4 380.0,85.9 381.4,86.3 382.9,84.9 384.3,84.0 385.8,83.1 387.2,84.1 388.6,81.7 390.1,82.4 391.5,82.7 392.9,84.3 394.4,84.6 395.8,85.9 397.2,87.3 398.7,84.9 400.1,84.5 401.5,84.4 403.0,85.3 404.4,85.7 405.9,85.5 407.3,86.0 408.7,85.4 410.2,86.1 411.6,87.9 413.0,87.2 414.5,86.2 415.9,84.5 417.3,85.7 418.8,83.8 420.2,85.0 421.6,86.0 423.1,85.6 424.5,86.2 426.0,87.5 427.4,87.8 428.8,87.9 430.3,89.2 431.7,88.6 433.1,86.6 434.6,87.3 436.0,86.8 437.4,89.9 438.9,89.2 440.3,88.1 441.7,86.6 443.2,86.5 444.6,84.9 446.1,84.6 447.5,84.8 448.9,83.7 450.4,84.0 451.8,83.2 453.2,84.9 454.7,84.2 456.1,84.6 457.5,83.6 459.0,85.2 460.4,85.1 461.8,84.9 463.3,84.1 464.7,83.9 466.2,83.5 467.6,84.3 469.0,85.9 470.5,85.7 471.9,85.1 473.3,87.0 474.8,87.5 476.2,87.4 477.6,88.5 479.1,79.9 480.5,79.5 481.9,79.6 483.4,79.2 484.8,78.7 486.3,79.9 487.7,79.5 489.1,79.1 490.6,80.5 492.0,80.5 493.4,82.1 494.9,81.4 496.3,81.2 497.7,81.2 499.2,81.1 500.6,80.3 502.0,79.6 503.5,78.0 504.9,78.3 506.4,78.1 507.8,78.6 509.2,76.3 510.7,76.1 512.1,76.6 513.5,75.7 515.0,77.4 516.4,75.7 517.8,74.7 519.3,73.8 520.7,74.7 522.1,74.9 523.6,74.6 525.0,75.3 526.5,77.4 527.9,78.0 529.3,79.5 530.8,80.0 532.2,78.0 533.6,80.7 535.1,80.3 536.5,81.8 537.9,81.8 539.4,80.2 540.8,79.4 542.2,78.8 543.7,78.4 545.1,78.2 546.6,76.2 548.0,76.5 549.4,77.3 550.9,77.5 552.3,77.6 553.7,77.6 555.2,78.2 556.6,80.1 558.0,80.1 559.5,78.3 560.9,79.0 562.3,78.9 563.8,77.8 565.2,78.9 566.7,79.1 568.1,79.2 569.5,79.4 571.0,79.3 572.4,79.8 573.8,79.6 575.3,78.7 576.7,78.3 578.1,79.0 579.6,79.8 581.0,79.6 582.4,80.0 583.9,80.2 585.3,79.6 586.8,79.6 588.2,78.3 589.6,77.8 591.1,77.6 592.5,79.1 593.9,78.0 595.4,79.6 596.8,82.5 598.2,82.1 599.7,82.4 601.1,83.2 602.5,83.7 604.0,84.8 605.4,84.0 606.9,80.9 608.3,80.0 609.7,80.0 611.2,77.2 612.6,79.3 614.0,77.8 615.5,76.9 616.9,78.6 618.3,78.3 619.8,78.0 621.2,78.7 622.6,78.2 624.1,77.6 625.5,79.2 627.0,79.6 628.4,79.7 629.8,79.8 631.3,80.4 632.7,79.4 634.1,79.8 635.6,81.2 637.0,80.4 638.4,82.1 639.9,81.9 641.3,83.2 642.7,82.7 644.2,83.1 645.6,82.1 647.1,83.0 648.5,82.3 649.9,82.4 651.4,81.8 652.8,79.2 654.2,79.5 655.7,81.4 657.1,80.1 658.5,79.9 660.0,79.2 661.4,78.6 662.8,80.2 664.3,79.4 665.7,78.6 667.2,80.0 668.6,79.1 670.0,79.2 671.5,77.8 672.9,78.3 674.3,77.6 675.8,76.5 677.2,76.6 678.6,76.0 680.1,76.5 681.5,75.9 682.9,74.7 684.4,75.6 685.8,73.4 687.3,74.3 688.7,74.1 690.1,73.8 691.6,74.6 693.0,75.0 694.4,76.4 695.9,76.3 697.3,74.6 698.7,75.3 700.2,75.4 701.6,77.4 703.0,78.3 704.5,77.8 705.9,79.3 707.4,76.2 708.8,75.9 710.2,76.7 711.7,76.8 713.1,77.3 714.5,77.3 716.0,77.2 717.4,75.7 718.8,75.3 720.3,75.9 721.7,78.4 723.1,78.0 724.6,79.6 726.0,79.6 727.5,80.5 728.9,81.3 730.3,82.4 731.8,82.6 733.2,83.3 734.6,83.0 736.1,80.9 737.5,80.4 738.9,81.6 740.4,82.0 741.8,80.1 743.2,82.6 744.7,81.5 746.1,80.8 747.6,81.2 749.0,80.8 750.4,80.6 751.9,78.3 753.3,78.2 754.7,77.8 756.2,76.2 757.6,75.8 759.0,75.8 760.5,77.6 761.9,77.4 763.3,76.9 764.8,76.2 766.2,77.3 767.7,76.4 769.1,76.6 770.5,78.9 772.0,78.3 773.4,79.3 774.8,81.0 776.3,80.1 777.7,79.5 779.1,79.2 780.6,76.5 782.0,77.3 783.4,77.0 784.9,77.2 786.3,75.8 787.8,76.3 789.2,74.7 790.6,76.1 792.1,77.8 793.5,77.6 794.9,77.9 796.4,79.9 797.8,81.2 799.2,81.1 800.7,80.6 802.1,81.4 803.5,83.0 805.0,82.9 806.4,83.4 807.9,83.8 809.3,83.3 810.7,83.3 812.2,82.4 813.6,80.1 815.0,80.4 816.5,80.5 817.9,80.7 819.3,79.7 820.8,77.5 822.2,79.1 823.6,79.3 825.1,79.1 826.5,80.7 828.0,80.7 829.4,80.4 830.8,82.5 832.3,82.7 833.7,82.1 835.1,81.1 836.6,80.7 838.0,78.2 839.4,79.6 840.9,78.9 842.3,78.6 843.7,78.1 845.2,78.3 846.6,79.1 848.1,78.7 849.5,78.1 850.9,78.3 852.4,78.7 853.8,78.5 855.2,76.8 856.7,77.7 858.1,75.8 859.5,76.1 861.0,76.1 862.4,76.3 863.8,75.3 865.3,74.6 866.7,76.8 868.2,75.3 869.6,74.7 871.0,75.3 872.5,74.1 873.9,74.3 875.3,75.4 876.8,76.8 878.2,75.5 879.6,75.8 881.1,74.6 882.5,76.0 883.9,76.3 885.4,74.9 886.8,74.9 888.3,75.2 889.7,75.1 891.1,75.6 892.6,76.3 894.0,75.3 895.4,76.9 896.9,77.9 898.3,76.5 899.7,75.9 901.2,75.9 902.6,77.0 904.0,76.8 905.5,77.0 906.9,76.6 908.4,76.3 909.8,76.4 911.2,78.2 912.7,77.2 914.1,77.4 915.5,79.5 917.0,79.8 918.4,80.8 919.8,78.7 921.3,80.1 922.7,82.2 924.1,82.3 925.6,82.4 927.0,81.8 928.4,82.2 929.9,84.1 931.3,84.6 932.8,83.9 934.2,84.5 935.6,84.4 937.1,85.8 938.5,84.0 939.9,85.1 941.4,85.1 942.8,84.3 944.2,83.0 945.7,83.2 947.1,82.7 948.5,84.9 950.0,84.0 951.4,84.6 952.9,84.4 954.3,85.3 955.7,85.1 957.2,85.8 958.6,85.5 960.0,82.8 961.5,81.3 962.9,83.7 964.3,83.3 965.8,85.0 967.2,86.1 968.6,85.3 970.1,85.3 971.5,84.8 973.0,84.8 974.4,83.3 975.8,82.1 977.3,81.1 978.7,81.1 980.1,83.1 981.6,83.5 983.0,82.9 984.4,83.4 985.9,84.0 987.3,83.6 988.7,83.3 990.2,83.7 991.6,84.9 993.1,84.7 994.5,86.3 995.9,85.8 997.4,85.1 998.8,85.4 1000.2,85.9 1001.7,86.0 1003.1,84.7 1004.5,84.3 1006.0,84.6 1007.4,84.5 1008.8,84.6 1010.3,83.1 1011.7,83.8 1013.2,81.2 1014.6,82.0 1016.0,80.5 1017.5,80.0 1018.9,81.3 1020.3,81.8 1021.8,83.0 1023.2,83.7 1024.6,83.1 1026.1,84.2 1027.5,83.5 1028.9,83.0 1030.4,82.1 1031.8,81.8 1033.3,81.1 1034.7,80.3 1036.1,81.3 1037.6,80.1 1039.0,80.7 1040.4,79.1 1041.9,78.6 1043.3,78.2 1044.7,77.4 1046.2,77.8 1047.6,78.1 1049.0,78.2 1050.5,77.6 1051.9,78.6 1053.4,77.2 1054.8,77.5 1056.2,76.6 1057.7,77.3 1059.1,79.2 1060.5,81.6 1062.0,81.5 1063.4,81.0 1064.8,81.9 1066.3,83.8 1067.7,84.7 1069.1,83.8 1070.6,84.1 1072.0,82.6 1073.5,81.8 1074.9,81.3 1076.3,81.5 1077.8,81.3 1079.2,81.9 1080.6,81.2 1082.1,83.3 1083.5,82.8 1084.9,80.6 1086.4,81.0 1087.8,79.5 1089.2,80.0 1090.7,79.5 1092.1,79.4 1093.6,79.3 1095.0,78.9 1096.4,79.0 1097.9,78.9 1099.3,79.0 1100.7,80.9 1102.2,81.7 1103.6,81.8 1105.0,82.3 1106.5,84.1 1107.9,82.9 1109.3,83.4 1110.8,82.1 1112.2,84.1 1113.7,84.7 1115.1,84.7 1116.5,85.0 1118.0,84.0 1119.4,81.4 1120.8,83.2 1122.3,84.0 1123.7,82.0 1125.1,82.1 1126.6,81.3 1128.0,82.8 1129.4,81.7 1130.9,81.5 1132.3,81.0 1133.8,81.0 1135.2,80.8 1136.6,81.2 1138.1,80.9 1139.5,80.8 1140.9,80.7 1142.4,81.6 1143.8,82.7 1145.2,82.9 1146.7,82.9 1148.1,83.7 1149.5,85.2 1151.0,84.7 1152.4,83.2 1153.9,81.0 1155.3,79.6 1156.7,77.9 1158.2,77.8 1159.6,78.6 1161.0,77.1 1162.5,77.9 1163.9,77.9 1165.3,77.7 1166.8,77.3 1168.2,76.9 1169.6,79.2 1171.1,78.6 1172.5,77.9 1174.0,78.2 1175.4,77.2 1176.8,78.6 1178.3,79.0 1179.7,81.1 1181.1,78.7 1182.6,79.2 1184.0,79.6 1185.4,80.9 1186.9,81.7 1188.3,80.7 1189.7,80.9 1191.2,81.2 1192.6,80.2 1194.1,82.0 1195.5,82.3 1196.9,81.2 1198.4,83.5 1199.8,83.1 1201.2,84.6 1202.7,84.5 1204.1,84.6 1205.5,83.1 1207.0,82.1 1208.4,81.3 1209.8,81.7 1211.3,81.1 1212.7,80.8 1214.2,81.1 1215.6,80.9 1217.0,80.1 1218.5,79.4 1219.9,79.5 1221.3,79.4 1222.8,79.7 1224.2,78.9 1225.6,78.8 1227.1,79.2 1228.5,80.5 1229.9,79.7 1231.4,78.2 1232.8,78.0 1234.3,79.0 1235.7,79.1 1237.1,77.3 1238.6,77.4 1240.0,75.8 1241.4,76.1 1242.9,75.9 1244.3,76.4 1245.7,76.8 1247.2,76.9 1248.6,78.4 1250.0,78.7 1251.5,78.4 1252.9,78.2 1254.4,77.6 1255.8,78.9 1257.2,78.0 1258.7,79.4 1260.1,78.7 1261.5,79.0 1263.0,78.4 1264.4,78.0 1265.8,78.2 1267.3,77.0 1268.7,76.4 1270.1,76.0 1271.6,75.9 1273.0,77.2 1274.5,78.2 1275.9,78.8 1277.3,78.3 1278.8,77.7 1280.2,77.6 1281.6,78.6 1283.1,80.9 1284.5,80.9 1285.9,80.6 1287.4,81.9 1288.8,81.3 1290.2,82.0 1291.7,82.2 1293.1,84.2 1294.6,83.5 1296.0,83.5 1297.4,83.8 1298.9,84.4 1300.3,84.8 1301.7,85.3 1303.2,84.0 1304.6,82.4 1306.0,81.8 1307.5,81.3 1308.9,80.5 1310.3,80.8 1311.8,81.9 1313.2,81.7 1314.7,80.3 1316.1,80.2 1317.5,80.1 1319.0,79.1 1320.4,76.8 1321.8,78.1 1323.3,78.6 1324.7,79.6 1326.1,79.4 1327.6,78.6 1329.0,79.3 1330.4,80.2 1331.9,80.7 1333.3,78.9 1334.8,77.4 1336.2,76.4 1337.6,75.8 1339.1,77.7 1340.5,77.5 1341.9,79.6 1343.4,80.9 1344.8,80.0 1346.2,80.3 1347.7,80.2 1349.1,80.1 1350.5,79.5 1352.0,78.6 1353.4,79.3 1354.9,78.6 1356.3,77.6 1357.7,76.9 1359.2,75.7 1360.6,76.9 1362.0,78.4 1363.5,79.4 1364.9,79.3 1366.3,79.7 1367.8,80.8 1369.2,80.9 1370.6,80.0 1372.1,80.9 1373.5,81.5 1375.0,80.9 1376.4,81.0 1377.8,81.9 1379.3,79.7 1380.7,79.2 1382.1,78.1 1383.6,79.0 1385.0,78.0 1386.4,77.8 1387.9,76.6 1389.3,77.5 1390.7,78.0 1392.2,77.1 1393.6,77.6 1395.1,78.5 1396.5,77.6 1397.9,77.3 1399.4,76.8 1400.8,77.5 1402.2,79.4 1403.7,79.2 1405.1,79.8 1406.5,80.2 1408.0,78.9 1409.4,80.4 1410.8,80.7 1412.3,80.0 1413.7,79.5 1415.2,80.1 1416.6,79.9 1418.0,79.4 1419.5,80.4 1420.9,82.7 1422.3,82.6 1423.8,83.0 1425.2,81.9 1426.6,81.6 1428.1,82.2 1429.5,82.6 1430.9,81.4 1432.4,81.3 1433.8,82.3 1435.3,82.2 1436.7,81.3 1438.1,81.9 1439.6,81.5 1441.0,81.1 1442.4,81.2 1443.9,79.7 1445.3,78.4 1446.7,76.7 1448.2,76.7 1449.6,76.9 1451.0,77.7 1452.5,76.8 1453.9,76.4 1455.4,76.0 1456.8,77.4 1458.2,77.0 1459.7,78.4 1461.1,77.5 1462.5,77.3 1464.0,77.3 1465.4,77.2 1466.8,77.4 1468.3,78.5 1469.7,78.2 1471.1,78.0 1472.6,79.5 1474.0,78.1 1475.5,78.5 1476.9,79.0 1478.3,79.2 1479.8,80.7 1481.2,79.7 1482.6,80.1 1484.1,81.0 1485.5,80.6 1486.9,80.7 1488.4,81.4 1489.8,82.0 1491.2,81.8 1492.7,82.1 1494.1,82.0 1495.6,82.7 1497.0,82.2 1498.4,82.0 1499.9,81.5 1501.3,81.7 1502.7,81.7 1504.2,82.0 1505.6,81.8 1507.0,80.9 1508.5,82.4 1509.9,81.2 1511.3,79.6 1512.8,79.1 1514.2,79.5 1515.7,81.0 1517.1,79.6 1518.5,79.0 1520.0,78.3 1521.4,78.9 1522.8,79.5 1524.3,80.9 1525.7,81.8 1527.1,80.2 1528.6,79.8 1530.0,78.2 1531.4,78.3 1532.9,78.3 1534.3,78.3 1535.8,77.3 1537.2,77.4 1538.6,77.3 1540.1,77.3 1541.5,74.1 1542.9,74.0 1544.4,73.9 1545.8,76.3 1547.2,74.4 1548.7,76.8 1550.1,77.4 1551.5,79.7 1553.0,79.2 1554.4,81.3 1555.9,81.6 1557.3,82.1 1558.7,80.1 1560.2,80.2 1561.6,78.1 1563.0,79.9 1564.5,79.1 1565.9,80.3 1567.3,80.2 1568.8,81.6 1570.2,80.7 1571.6,82.1 1573.1,82.5 1574.5,83.4 1576.0,83.5 1577.4,83.6 1578.8,84.6 1580.3,84.1 1581.7,83.1 1583.1,83.4 1584.6,81.6 1586.0,82.1 1587.4,84.3 1588.9,81.7 1590.3,80.8 1591.7,80.0 1593.2,79.9 1594.6,79.4 1596.1,79.3 1597.5,80.2 1598.9,79.6 1600.4,79.7 1601.8,78.3 1603.2,78.8 1604.7,79.5 1606.1,80.5 1607.5,80.8 1609.0,80.5 1610.4,79.9 1611.8,81.3 1613.3,80.7 1614.7,82.6 1616.2,82.5 1617.6,81.1 1619.0,80.8 1620.5,81.2 1621.9,81.0 1623.3,81.0 1624.8,81.4 1626.2,80.9"/>
<polyline stroke="#00ffff" points="191.9,1144.7 193.4,985.3 194.8,845.1 196.2,744.2 197.7,669.4 199.1,615.3 200.5,564.6 202.0,517.0 203.4,474.5 204.9,437.0 206.3,401.1 207.7,371.3 209.2,342.8 210.6,318.1 212.0,299.1 213.5,280.0 214.9,266.1 216.3,257.2 217.8,248.4 219.2,239.6 220.6,230.7 222.1,222.8 223.5,215.9 225.0,209.0 226.4,202.1 227.8,195.1 229.3,188.2 230.7,182.9 232.1,177.8 233.6,172.7 235.0,167.5 236.4,163.6 237.9,160.9 239.3,158.1 240.7,155.4 242.2,153.1 243.6,149.9 245.1,147.0 246.5,144.0 247.9,141.6 249.4,139.9 250.8,136.7 252.2,134.7 253.7,132.2 255.1,130.6 256.5,127.7 258.0,125.3 259.4,122.8 260.8,121.9 262.3,120.1 263.7,118.3 265.2,116.6 266.6,114.9 268.0,113.5 269.5,111.8 270.9,111.4 272.3,110.5 273.8,110.6 275.2,110.1 276.6,109.4 278.1,108.0 279.5,105.2 280.9,106.2 282.4,103.3 283.8,103.6 285.3,102.0 286.7,102.2 288.1,103.5 289.6,102.6 291.0,100.3 292.4,101.9 293.9,100.9 295.3,102.0 296.7,100.7 298.2,100.0 299.6,99.1 301.0,100.1 302.5,99.8 303.9,101.6 305.4,99.4 306.8,100.9 308.2,99.9 309.7,99.4 311.1,98.8 312.5,97.7 314.0,95.7 315.4,96.4 316.8,95.6 318.3,97.4 319.7,96.5 321.1,95.7 322.6,96.4 324.0,97.2 325.5,96.0 326.9,98.1 328.3,98.4 329.8,97.9 331.2,100.5 332.6,99.6 334.1,98.6 335.5,98.4 336.9,99.7 338.4,100.4 339.8,100.2 341.2,99.3 342.7,99.8 344.1,101.3 345.6,101.8 347.0,101.8 348.4,100.6 349.9,102.2 351.3,101.8 352.7,101.4 354.2,101.2 355.6,102.4 357.0,102.2 358.5,101.4 359.9,99.4 361.3,99.2 362.8,97.1 364.2,95.6 365.7,97.1 367.1,97.9 368.5,99.3 370.0,98.7 371.4,98.6 372.8,99.1 374.3,98.8 375.7,99.7 377.1,100.5 378.6,100.9 380.0,97.8 381.4,98.0 382.9,98.4 384.3,97.8 385.8,99.2 387.2,99.8 388.6,99.1 390.1,100.3 391.5,101.5 392.9,101.9 394.4,100.5 395.8,99.9 397.2,98.1 398.7,98.1 400.1,97.3 401.5,97.1 403.0,96.4 404.4,95.4 405.9,94.5 407.3,95.4 408.7,94.3 410.2,95.3 411.6,93.3 413.0,94.0 414.5,93.3 415.9,93.3 417.3,93.9 418.8,92.7 420.2,92.3 421.6,92.9 423.1,93.4 424.5,93.3 426.0,93.6 427.4,91.3 428.8,91.0 430.3,93.1 431.7,93.2 433.1,93.5 434.6,93.4 436.0,92.3 437.4,93.6 438.9,93.7 440.3,94.8 441.7,96.1 443.2,97.9 444.6,99.7 446.1,100.3 447.5,99.4 448.9,98.6 450.4,98.8 451.8,98.4 453.2,98.4 454.7,96.6 456.1,97.2 457.5,96.3 459.0,95.5 460.4,94.0 461.8,94.3 463.3,95.2 464.7,96.1 466.2,99.2 467.6,99.4 469.0,99.2 470.5,99.6 471.9,100.4 473.3,98.0 474.8,96.9 476.2,97.1 477.6,97.5 479.1,90.8 480.5,90.1 481.9,89.8 483.4,89.1 484.8,88.5 486.3,87.9 487.7,87.2 489.1,87.0 490.6,87.0 492.0,86.9 493.4,87.2 494.9,85.5 496.3,85.7 497.7,85.5 499.2,88.1 500.6,90.7 502.0,90.6 503.5,91.5 504.9,91.0 506.4,91.5 507.8,91.5 509.2,91.2 510.7,91.8 512.1,90.2 513.5,90.5 515.0,89.0 516.4,91.8 517.8,91.4 519.3,91.1 520.7,91.8 522.1,90.7 523.6,90.6 525.0,91.9 526.5,90.9 527.9,90.4 529.3,90.7 530.8,91.4 532.2,93.2 533.6,92.3 535.1,93.8 536.5,92.8 537.9,90.3 539.4,89.5 540.8,89.9 542.2,90.4 543.7,89.0 545.1,88.5 546.6,88.1 548.0,87.5 549.4,89.1 550.9,88.2 552.3,90.8 553.7,90.4 555.2,89.1 556.6,90.3 558.0,89.2 559.5,89.3 560.9,89.1 562.3,87.1 563.8,87.8 565.2,88.3 566.7,89.9 568.1,90.7 569.5,90.8 571.0,91.8 572.4,90.4 573.8,93.8 575.3,92.0 576.7,92.3 578.1,92.8 579.6,91.6 581.0,92.0 582.4,91.1 583.9,90.3 585.3,91.0 586.8,90.2 588.2,90.2 589.6,92.4 591.1,91.9 592.5,92.1 593.9,91.4 595.4,91.1 596.8,90.4 598.2,91.7 599.7,91.4 601.1,90.9 602.5,91.4 604.0,92.6 605.4,92.5 606.9,92.4 608.3,90.5 609.7,94.2 611.2,94.3 612.6,94.6 614.0,96.2 615.5,97.3 616.9,95.5 618.3,97.9 619.8,96.4 621.2,96.0 622.6,96.6 624.1,97.1 625.5,96.5 627.0,93.1 628.4,93.8 629.8,93.5 631.3,92.1 632.7,89.8 634.1,89.6 635.6,87.3 637.0,86.2 638.4,86.2 639.9,87.0 641.3,87.8 642.7,87.7 644.2,88.8 645.6,87.8 647.1,88.7 648.5,87.8 649.9,88.0 651.4,86.5 652.8,85.8 654.2,85.6 655.7,85.2 657.1,86.4 658.5,87.4 660.0,87.0 661.4,86.3 662.8,85.6 664.3,85.0 665.7,84.4 667.2,86.0 668.6,85.0 670.0,83.8 671.5,86.0 672.9,88.3 674.3,88.7 675.8,88.6 677.2,89.0 678.6,90.1 680.1,90.2 681.5,91.7 682.9,90.7 684.4,91.0 685.8,90.0 687.3,92.3 688.7,91.9 690.1,94.8 691.6,94.3 693.0,93.4 694.4,93.7 695.9,94.3 697.3,93.6 698.7,93.0 700.2,92.9 701.6,93.2 703.0,94.0 704.5,93.4 705.9,92.3 707.4,91.9 708.8,90.9 710.2,89.6 711.7,90.0 713.1,90.1 714.5,89.3 716.0,89.9 717.4,90.5 718.8,91.7 720.3,91.9 721.7,92.0 723.1,91.6 724.6,91.2 726.0,91.8 727.5,92.3 728.9,91.2 730.3,92.0 731.8,90.6 733.2,89.7 734.6,91.1 736.1,91.2 737.5,91.9 738.9,90.7 740.4,91.2 741.8,90.7 743.2,89.8 744.7,90.5 746.1,89.1 747.6,88.5 749.0,88.3 750.4,88.5 751.9,87.7 753.3,87.5 754.7,88.6 756.2,87.2 757.6,87.1 759.0,85.5 760.5,83.7 761.9,83.8 763.3,85.6 764.8,87.7 766.2,88.5 767.7,88.4 769.1,87.4 770.5,88.5 772.0,87.9 773.4,86.7 774.8,85.6 776.3,86.1 777.7,86.1 779.1,86.3 780.6,86.2 782.0,86.1 783.4,85.4 784.9,84.4 786.3,84.6 787.8,84.6 789.2,86.6 790.6,86.2 792.1,86.9 793.5,87.2 794.9,87.1 796.4,87.7 797.8,90.3 799.2,90.3 800.7,91.5 802.1,91.3 803.5,90.8 805.0,89.8 806.4,90.1 807.9,90.4 809.3,89.9 810.7,90.4 812.2,92.7 813.6,91.7 815.0,92.8 816.5,93.0 817.9,93.6 819.3,94.3 820.8,92.7 822.2,91.1 823.6,90.5 825.1,91.3 826.5,89.2 828.0,89.4 829.4,90.1 830.8,89.3 832.3,89.8 833.7,88.6 835.1,88.6 836.6,87.3 838.0,86.9 839.4,86.8 840.9,85.8 842.3,86.7 843.7,86.7 845.2,86.8 846.6,86.2 848.1,88.1 849.5,88.3 850.9,88.6 852.4,89.3 853.8,88.1 855.2,89.2 856.7,88.6 858.1,89.4 859.5,89.5 861.0,88.5 862.4,89.8 863.8,91.7 865.3,92.7 866.7,94.4 868.2,92.9 869.6,94.8 871.0,94.2 872.5,93.1 873.9,92.8 875.3,92.7 876.8,92.7 878.2,93.4 879.6,94.7 881.1,93.7 882.5,93.0 883.9,92.7 885.4,91.8 886.8,92.1 888.3,93.1 889.7,92.2 891.1,90.4 892.6,92.9 894.0,91.9 895.4,90.9 896.9,91.1 898.3,89.8 899.7,89.8 901.2,91.0 902.6,88.8 904.0,89.0 905.5,90.8 906.9,91.2 908.4,93.1 909.8,92.1 911.2,92.4 912.7,92.8 914.1,94.6 915.5,93.4 917.0,94.3 918.4,95.7 919.8,92.7 921.3,92.1 922.7,92.9 924.1,94.2 925.6,94.8 927.0,96.4 928.4,94.6 929.9,94.0 931.3,92.7 932.8,92.5 934.2,93.2 935.6,93.1 937.1,93.7 938.5,91.5 939.9,90.7 941.4,90.5 942.8,89.4 944.2,89.9 945.7,89.6 947.1,89.1 948.5,86.6 950.0,87.3 951.4,89.8 952.9,89.9 954.3,89.2 955.7,89.8 957.2,91.9 958.6,92.7 960.0,92.0 961.5,90.3 962.9,88.4 964.3,88.0 965.8,87.6 967.2,86.6 968.6,85.6 970.1,86.5 971.5,86.5 973.0,85.9 974.4,86.5 975.8,85.7 977.3,86.9 978.7,87.3 980.1,88.5 981.6,88.9 983.0,89.9 984.4,91.0 985.9,89.7 987.3,88.6 988.7,89.9 990.2,89.5 991.6,89.9 993.1,91.1 994.5,89.2 995.9,90.5 997.4,90.1 998.8,90.2 1000.2,90.1 1001.7,90.5 1003.1,90.2 1004.5,90.8 1006.0,90.3 1007.4,89.0 1008.8,91.4 1010.3,90.7 1011.7,90.5 1013.2,90.1 1014.6,89.1 1016.0,88.9 1017.5,90.2 1018.9,91.3 1020.3,90.6 1021.8,90.6 1023.2,91.3 1024.6,90.4 1026.1,89.6 1027.5,88.1 1028.9,88.4 1030.4,87.8 1031.8,87.8 1033.3,88.1 1034.7,87.7 1036.1,86.1 1037.6,83.8 1039.0,84.1 1040.4,83.4 1041.9,84.1 1043.3,84.5 1044.7,83.9 1046.2,84.5 1047.6,83.6 1049.0,82.3 1050.5,82.9 1051.9,83.4 1053.4,83.3 1054.8,82.5 1056.2,83.2 1057.7,84.5 1059.1,85.5 1060.5,86.3 1062.0,85.2 1063.4,86.2 1064.8,86.6 1066.3,88.1 1067.7,88.4 1069.1,87.0 1070.6,87.0 1072.0,88.1 1073.5,86.5 1074.9,85.6 1076.3,86.0 1077.8,85.6 1079.2,84.0 1080.6,84.0 1082.1,83.8 1083.5,83.9 1084.9,84.8 1086.4,85.1 1087.8,83.8 1089.2,84.0 1090.7,84.2 1092.1,82.4 1093.6,84.6 1095.0,83.5 1096.4,85.0 1097.9,84.8 1099.3,85.7 1100.7,87.4 1102.2,87.4 1103.6,85.8 1105.0,86.2 1106.5,87.2 1107.9,89.0 1109.3,89.1 1110.8,89.3 1112.2,88.6 1113.7,90.1 1115.1,90.0 1116.5,91.3 1118.0,90.9 1119.4,92.3 1120.8,92.6 1122.3,91.7 1123.7,92.7 1125.1,92.5 1126.6,91.5 1128.0,91.8 1129.4,92.7 1130.9,90.6 1132.3,91.5 1133.8,93.2 1135.2,92.6 1136.6,93.1 1138.1,93.2 1139.5,94.5 1140.9,92.5 1142.4,92.5 1143.8,91.7 1145.2,92.4 1146.7,92.6 1148.1,91.3 1149.5,91.3 1151.0,92.5 1152.4,92.1 1153.9,90.9 1155.3,91.1 1156.7,90.8 1158.2,88.3 1159.6,89.8 1161.0,89.3 1162.5,89.9 1163.9,89.9 1165.3,91.5 1166.8,90.1 1168.2,91.0 1169.6,91.6 1171.1,91.3 1172.5,91.0 1174.0,91.0 1175.4,90.9 1176.8,89.3 1178.3,90.0 1179.7,90.2 1181.1,92.3 1182.6,91.8 1184.0,89.2 1185.4,90.9 1186.9,92.1 1188.3,93.0 1189.7,90.2 1191.2,91.5 1192.6,91.9 1194.1,92.2 1195.5,91.5 1196.9,91.4 1198.4,93.2 1199.8,93.0 1201.2,93.1 1202.7,92.0 1204.1,92.3 1205.5,91.1 1207.0,91.2 1208.4,90.3 1209.8,89.2 1211.3,89.0 1212.7,87.7 1214.2,87.8 1215.6,89.2 1217.0,89.8 1218.5,90.3 1219.9,91.3 1221.3,90.3 1222.8,90.5 1224.2,91.6 1225.6,89.8 1227.1,89.2 1228.5,89.9 1229.9,87.9 1231.4,87.2 1232.8,87.8 1234.3,88.7 1235.7,87.1 1237.1,87.3 1238.6,88.3 1240.0,87.8 1241.4,88.6 1242.9,90.1 1244.3,91.0 1245.7,91.3 1247.2,90.9 1248.6,90.6 1250.0,89.8 1251.5,89.5 1252.9,88.6 1254.4,88.5 1255.8,86.9 1257.2,86.4 1258.7,88.3 1260.1,86.8 1261.5,84.7 1263.0,87.2 1264.4,87.3 1265.8,87.3 1267.3,88.1 1268.7,88.0 1270.1,87.7 1271.6,88.2 1273.0,88.6 1274.5,89.4 1275.9,91.0 1277.3,90.8 1278.8,90.2 1280.2,90.8 1281.6,91.1 1283.1,92.8 1284.5,93.1 1285.9,93.9 1287.4,93.4 1288.8,92.1 1290.2,92.8 1291.7,93.0 1293.1,93.2 1294.6,92.6 1296.0,94.6 1297.4,94.6 1298.9,93.3 1300.3,92.5 1301.7,92.7 1303.2,92.8 1304.6,93.4 1306.0,92.5 1307.5,92.6 1308.9,93.1 1310.3,92.1 1311.8,92.6 1313.2,89.4 1314.7,90.4 1316.1,90.4 1317.5,90.2 1319.0,90.5 1320.4,90.1 1321.8,89.1 1323.3,89.8 1324.7,88.7 1326.1,89.4 1327.6,88.5 1329.0,87.1 1330.4,88.6 1331.9,88.0 1333.3,87.3 1334.8,87.9 1336.2,87.4 1337.6,88.6 1339.1,87.3 1340.5,88.5 1341.9,88.8 1343.4,87.4 1344.8,88.6 1346.2,88.2 1347.7,87.8 1349.1,87.9 1350.5,88.7 1352.0,90.1 1353.4,89.8 1354.9,89.4 1356.3,89.4 1357.7,89.3 1359.2,88.9 1360.6,89.8 1362.0,89.9 1363.5,90.5 1364.9,90.4 1366.3,91.5 1367.8,91.1 1369.2,90.3 1370.6,90.8 1372.1,93.4 1373.5,94.0 1375.0,93.1 1376.4,93.1 1377.8,92.7 1379.3,92.7 1380.7,94.2 1382.1,93.1 1383.6,94.3 1385.0,93.3 1386.4,93.6 1387.9,93.1 1389.3,95.0 1390.7,95.6 1392.2,95.0 1393.6,95.6 1395.1,97.4 1396.5,95.6 1397.9,95.8 1399.4,95.3 1400.8,96.8 1402.2,96.1 1403.7,97.2 1405.1,98.1 1406.5,97.1 1408.0,96.7 1409.4,97.9 1410.8,95.6 1412.3,96.8 1413.7,97.6 1415.2,98.4 1416.6,96.2 1418.0,96.2 1419.5,97.3 1420.9,96.6 1422.3,97.5 1423.8,97.9 1425.2,96.1 1426.6,95.9 1428.1,94.8 1429.5,96.1 1430.9,94.1 1432.4,95.6 1433.8,97.0 1435.3,96.6 1436.7,96.2 1438.1,95.8 1439.6,96.1 1441.0,95.9 1442.4,94.2 1443.9,95.5 1445.3,96.4 1446.7,97.7 1448.2,96.6 1449.6,95.2 1451.0,95.2 1452.5,94.5 1453.9,93.9 1455.4,94.0 1456.8,93.4 1458.2,94.7 1459.7,93.8 1461.1,93.1 1462.5,93.2 1464.0,91.7 1465.4,91.0 1466.8,89.5 1468.3,91.2 1469.7,90.5 1471.1,89.5 1472.6,89.5 1474.0,90.2 1475.5,93.8 1476.9,95.2 1478.3,94.8 1479.8,95.9 1481.2,97.2 1482.6,96.0 1484.1,96.6 1485.5,96.7 1486.9,97.2 1488.4,97.4 1489.8,97.6 1491.2,98.0 1492.7,98.5 1494.1,100.0 1495.6,99.4 1497.0,100.7 1498.4,101.1 1499.9,100.4 1501.3,102.3 1502.7,101.1 1504.2,99.0 1505.6,99.5 1507.0,97.2 1508.5,97.9 1509.9,98.0 1511.3,97.4 1512.8,98.5 1514.2,96.7 1515.7,96.5 1517.1,95.6 1518.5,94.9 1520.0,94.0 1521.4,95.2 1522.8,94.1 1524.3,93.8 1525.7,92.6 1527.1,90.9 1528.6,89.8 1530.0,90.1 1531.4,91.0 1532.9,92.3 1534.3,90.6 1535.8,91.2 1537.2,92.3 1538.6,93.9 1540.1,93.2 1541.5,92.8 1542.9,92.4 1544.4,93.4 1545.8,94.5 1547.2,93.9 1548.7,93.8 1550.1,94.5 1551.5,94.1 1553.0,93.4 1554.4,94.2 1555.9,91.9 1557.3,91.0 1558.7,91.8 1560.2,91.4 1561.6,89.3 1563.0,90.4 1564.5,88.8 1565.9,88.4 1567.3,88.5 1568.8,87.3 1570.2,86.2 1571.6,88.8 1573.1,88.6 1574.5,88.0 1576.0,88.1 1577.4,87.1 1578.8,88.1 1580.3,88.5 1581.7,90.3 1583.1,90.4 1584.6,90.2 1586.0,91.1 1587.4,91.7 1588.9,92.4 1590.3,93.4 1591.7,91.3 1593.2,92.5 1594.6,91.8 1596.1,89.5 1597.5,91.0 1598.9,91.5 1600.4,92.4 1601.8,93.9 1603.2,92.5 1604.7,93.1 1606.1,91.3 1607.5,90.0 1609.0,90.3 1610.4,87.9 1611.8,88.6 1613.3,86.1 1614.7,85.2 1616.2,84.0 1617.6,84.0 1619.0,83.4 1620.5,85.8 1621.9,86.2 1623.3,87.2 1624.8,87.4 1626.2,88.8"/>
<polyline stroke="#ff00ff" points="191.9,1137.7 193.4,974.9 194.8,832.2 196.2,729.4 197.7,657.2 199.1,605.1 200.5,553.6 202.0,507.0 203.4,463.9 204.9,427.5 206.3,391.9 207.7,363.2 209.2,334.4 210.6,315.1 212.0,300.0 213.5,284.8 214.9,269.7 216.3,254.5 217.8,239.4 219.2,228.9 220.6,219.1 222.1,209.2 223.5,199.3 225.0,188.7 226.4,182.9 227.8,177.8 229.3,172.8 230.7,168.3 232.1,163.5 233.6,162.1 235.0,161.5 236.4,157.9 237.9,153.0 239.3,149.4 240.7,147.2 242.2,144.9 243.6,142.0 245.1,139.6 246.5,137.5 247.9,136.4 249.4,135.6 250.8,134.5 252.2,133.2 253.7,132.0 255.1,130.9 256.5,129.8 258.0,128.7 259.4,126.5 260.8,126.5 262.3,125.0 263.7,124.7 265.2,124.5 266.6,123.3 268.0,121.9 269.5,122.1 270.9,121.8 272.3,123.1 273.8,123.3 275.2,123.5 276.6,123.7 278.1,122.3 279.5,122.5 280.9,122.5 282.4,122.1 283.8,121.6 285.3,121.8 286.7,120.2 288.1,120.2 289.6,118.7 291.0,117.7 292.4,117.2 293.9,117.4 295.3,116.2 296.7,115.9 298.2,115.6 299.6,116.1 301.0,117.1 302.5,117.2 303.9,116.4 305.4,116.9 306.8,117.9 308.2,117.8 309.7,119.1 311.1,119.3 312.5,119.1 314.0,116.8 315.4,117.7 316.8,117.3 318.3,115.0 319.7,115.1 321.1,113.2 322.6,112.0 324.0,111.8 325.5,113.0 326.9,111.3 328.3,111.8 329.8,112.9 331.2,113.5 332.6,113.9 334.1,114.9 335.5,116.0 336.9,115.6 338.4,117.7 339.8,116.6 341.2,115.6 342.7,115.3 344.1,114.5 345.6,114.6 347.0,115.2 348.4,117.0 349.9,116.2 351.3,118.2 352.7,121.5 354.2,122.9 355.6,123.4 357.0,121.7 358.5,119.7 359.9,120.3 361.3,120.3 362.8,120.1 364.2,120.1 365.7,118.8 367.1,120.6 368.5,122.9 370.0,122.8 371.4,122.3 372.8,124.2 374.3,122.1 375.7,122.2 377.1,123.1 378.6,120.4 380.0,120.1 381.4,119.6 382.9,118.4 384.3,115.9 385.8,115.3 387.2,114.1 388.6,114.7 390.1,115.4 391.5,117.5 392.9,118.7 394.4,119.3 395.8,119.7 397.2,121.3 398.7,119.6 400.1,120.0 401.5,118.9 403.0,116.3 404.4,115.0 405.9,114.1 407.3,112.8 408.7,112.4 410.2,112.7 411.6,112.0 413.0,111.2 414.5,112.1 415.9,112.2 417.3,113.3 418.8,113.3 420.2,113.4 421.6,114.3 423.1,113.2 424.5,115.0 426.0,115.2 427.4,114.9 428.8,116.2 430.3,114.9 431.7,117.4 433.1,117.3 434.6,117.2 436.0,114.5 437.4,112.4 438.9,110.0 440.3,108.3 441.7,107.2 443.2,109.2 444.6,109.0 446.1,111.5 447.5,111.8 448.9,113.8 450.4,112.2 451.8,111.1 453.2,111.0 454.7,109.4 456.1,109.3 457.5,108.8 459.0,108.6 460.4,108.6 461.8,105.4 463.3,107.6 464.7,106.3 466.2,104.9 467.6,104.2 469.0,103.5 470.5,103.6 471.9,102.7 473.3,102.0 474.8,100.9 476.2,100.6 477.6,101.0 479.1,101.8 480.5,100.2 481.9,100.7 483.4,101.1 484.8,101.7 486.3,103.5 487.7,102.0 489.1,99.0 490.6,98.5 492.0,98.6 493.4,97.1 494.9,99.0 496.3,98.8 497.7,100.0 499.2,100.7 500.6,99.6 502.0,98.8 503.5,98.2 504.9,97.4 506.4,97.1 507.8,96.3 509.2,95.3 510.7,95.3 512.1,94.1 513.5,95.5 515.0,93.3 516.4,91.0 517.8,92.5 519.3,94.2 520.7,93.5 522.1,94.0 523.6,92.7 525.0,91.9 526.5,92.6 527.9,95.8 529.3,98.2 530.8,99.2 532.2,100.5 533.6,101.1 535.1,100.5 536.5,101.6 537.9,103.2 539.4,104.1 540.8,103.8 542.2,102.9 543.7,103.4 545.1,102.2 546.6,101.6 548.0,101.3 549.4,100.6 550.9,98.9 552.3,98.1 553.7,98.5 555.2,99.3 556.6,101.6 558.0,102.1 559.5,103.8 560.9,104.3 562.3,104.7 563.8,103.3 565.2,103.5 566.7,102.4 568.1,100.9 569.5,99.3 571.0,99.1 572.4,96.9 573.8,96.4 575.3,95.8 576.7,94.4 578.1,92.9 579.6,92.8 581.0,94.7 582.4,94.5 583.9,93.2 585.3,93.5 586.8,93.0 588.2,92.4 589.6,92.0 591.1,92.4 592.5,91.4 593.9,91.8 595.4,92.6 596.8,94.8 598.2,93.2 599.7,94.8 601.1,95.2 602.5,94.6 604.0,96.1 605.4,97.9 606.9,96.0 608.3,96.8 609.7,96.0 611.2,93.8 612.6,94.4 614.0,92.0 615.5,93.8 616.9,93.2 618.3,92.5 619.8,92.3 621.2,91.1 622.6,91.5 624.1,92.6 625.5,93.5 627.0,91.2 628.4,92.4 629.8,92.8 631.3,92.2 632.7,91.3 634.1,91.7 635.6,92.7 637.0,93.6 638.4,94.2 639.9,94.2 641.3,95.6 642.7,98.0 644.2,98.9 645.6,98.0 647.1,101.3 648.5,97.9 649.9,97.7 651.4,98.1 652.8,95.3 654.2,97.8 655.7,101.1 657.1,103.5 658.5,106.2 660.0,106.7 661.4,107.4 662.8,108.5 664.3,109.9 665.7,108.8 667.2,109.6 668.6,111.2 670.0,111.0 671.5,111.7 672.9,111.0 674.3,110.6 675.8,109.4 677.2,108.3 678.6,105.1 680.1,107.0 681.5,107.1 682.9,106.8 684.4,106.5 685.8,107.4 687.3,106.6 688.7,106.6 690.1,106.1 691.6,107.1 693.0,108.6 694.4,108.6 695.9,108.3 697.3,108.6 698.7,108.2 700.2,105.7 701.6,105.6 703.0,106.9 704.5,107.9 705.9,106.8 707.4,109.2 708.8,109.5 710.2,107.6 711.7,107.5 713.1,108.0 714.5,107.2 716.0,105.5 717.4,106.8 718.8,107.1 720.3,106.4 721.7,105.7 723.1,105.4 724.6,104.9 726.0,104.5 727.5,103.5 728.9,104.3 730.3,103.6 731.8,103.2 733.2,103.3 734.6,103.5 736.1,103.3 737.5,104.8 738.9,102.9 740.4,103.3 741.8,104.9 743.2,105.3 744.7,104.8 746.1,106.0 747.6,108.4 749.0,109.3 750.4,110.6 751.9,111.1 753.3,112.3 754.7,110.6 756.2,107.6 757.6,106.1 759.0,105.2 760.5,105.6 761.9,105.1 763.3,104.6 764.8,105.3 766.2,105.5 767.7,103.2 769.1,102.5 770.5,102.4 772.0,101.7 773.4,101.9 774.8,100.3 776.3,98.9 777.7,98.0 779.1,100.6 780.6,101.9 782.0,102.1 783.4,101.7 784.9,100.7 786.3,100.1 787.8,99.7 789.2,100.2 790.6,98.7 792.1,98.6 793.5,98.1 794.9,97.6 796.4,96.8 797.8,95.8 799.2,96.6 800.7,96.7 802.1,97.0 803.5,96.4 805.0,98.1 806.4,98.9 807.9,99.6 809.3,98.4 810.7,99.5 812.2,100.2 813.6,99.6 815.0,100.0 816.5,101.1 817.9,101.0 819.3,101.4 820.8,101.8 822.2,101.8 823.6,101.4 825.1,100.4 826.5,100.6 828.0,99.4 829.4,99.0 830.8,97.0 832.3,96.7 833.7,94.9 835.1,95.4 836.6,95.3 838.0,94.0 839.4,95.9 840.9,97.0 842.3,97.0 843.7,98.8 845.2,97.8 846.6,100.1 848.1,99.3 849.5,100.7 850.9,102.3 852.4,103.8 853.8,103.9 855.2,103.5 856.7,102.8 858.1,101.9 859.5,101.4 861.0,100.8 862.4,99.0 863.8,97.0 865.3,97.5 866.7,96.7 868.2,95.9 869.6,93.9 871.0,96.2 872.5,95.3 873.9,96.9 875.3,98.6 876.8,96.5 878.2,97.3 879.6,98.6 881.1,102.1 882.5,103.7 883.9,103.8 885.4,105.0 886.8,107.1 888.3,107.6 889.7,107.3 891.1,110.3 892.6,110.1 894.0,110.5 895.4,108.8 896.9,109.1 898.3,108.4 899.7,110.2 901.2,109.7 902.6,111.3 904.0,112.5 905.5,113.9 906.9,112.6 908.4,113.7 909.8,111.6 911.2,110.1 912.7,106.1 914.1,106.7 915.5,107.0 917.0,109.0 918.4,108.8 919.8,108.0 921.3,108.3 922.7,107.0 924.1,106.4 925.6,104.2 927.0,104.0 928.4,103.0 929.9,102.4 931.3,101.6 932.8,99.8 934.2,100.1 935.6,100.6 937.1,99.3 938.5,98.3 939.9,98.5 941.4,98.1 942.8,97.8 944.2,98.7 945.7,99.3 947.1,100.6 948.5,102.7 950.0,104.0 951.4,104.2 952.9,102.9 954.3,105.4 955.7,105.0 957.2,104.7 958.6,105.1 960.0,105.5 961.5,104.5 962.9,104.6 964.3,104.4 965.8,105.2 967.2,103.3 968.6,103.4 970.1,103.9 971.5,104.3 973.0,102.1 974.4,101.7 975.8,101.6 977.3,102.9 978.7,102.1 980.1,101.9 981.6,102.9 983.0,102.7 984.4,102.9 985.9,102.4 987.3,102.5 988.7,103.1 990.2,101.6 991.6,100.7 993.1,101.9 994.5,101.1 995.9,103.0 997.4,102.7 998.8,104.8 1000.2,104.6 1001.7,107.2 1003.1,107.5 1004.5,109.4 1006.0,108.5 1007.4,108.7 1008.8,110.4 1010.3,111.2 1011.7,111.2 1013.2,110.7 1014.6,108.3 1016.0,107.2 1017.5,107.9 1018.9,108.0 1020.3,108.0 1021.8,105.0 1023.2,105.8 1024.6,107.2 1026.1,107.8 1027.5,106.3 1028.9,104.4 1030.4,104.6 1031.8,103.1 1033.3,103.2 1034.7,100.9 1036.1,101.7 1037.6,101.4 1039.0,100.9 1040.4,98.6 1041.9,100.8 1043.3,103.1 1044.7,102.2 1046.2,103.4 1047.6,104.7 1049.0,107.8 1050.5,107.4 1051.9,106.6 1053.4,106.1 1054.8,106.3 1056.2,107.6 1057.7,105.7 1059.1,103.8 1060.5,103.9 1062.0,105.9 1063.4,105.2 1064.8,105.9 1066.3,105.1 1067.7,103.9 1069.1,105.4 1070.6,105.1 1072.0,104.8 1073.5,104.5 1074.9,104.4 1076.3,105.5 1077.8,103.9 1079.2,103.8 1080.6,103.8 1082.1,103.9 1083.5,104.9 1084.9,105.0 1086.4,104.6 1087.8,106.0 1089.2,106.0 1090.7,107.6 1092.1,107.0 1093.6,107.0 1095.0,106.1 1096.4,105.3 1097.9,107.6 1099.3,106.9 1100.7,107.8 1102.2,107.0 1103.6,107.5 1105.0,107.0 1106.5,107.2 1107.9,106.4 1109.3,105.8 1110.8,105.1 1112.2,103.4 1113.7,101.5 1115.1,101.6 1116.5,100.9 1118.0,103.1 1119.4,103.5 1120.8,104.8 1122.3,105.9 1123.7,105.8 1125.1,103.9 1126.6,103.8 1128.0,104.6 1129.4,105.6 1130.9,107.6 1132.3,108.5 1133.8,108.9 1135.2,111.0 1136.6,111.8 1138.1,111.8 1139.5,110.4 1140.9,111.0 1142.4,109.5 1143.8,109.8 1145.2,108.5 1146.7,109.2 1148.1,107.7 1149.5,107.2 1151.0,105.5 1152.4,106.1 1153.9,105.6 1155.3,105.7 1156.7,105.3 1158.2,103.6 1159.6,104.5 1161.0,104.8 1162.5,104.4 1163.9,104.0 1165.3,101.6 1166.8,103.5 1168.2,103.6 1169.6,105.2 1171.1,105.9 1172.5,107.3 1174.0,108.7 1175.4,109.3 1176.8,110.5 1178.3,108.9 1179.7,108.4 1181.1,108.7 1182.6,109.2 1184.0,107.6 1185.4,107.7 1186.9,107.8 1188.3,106.9 1189.7,105.0 1191.2,102.5 1192.6,103.1 1194.1,102.0 1195.5,100.7 1196.9,101.2 1198.4,102.2 1199.8,101.5 1201.2,102.3 1202.7,103.0 1204.1,101.8 1205.5,101.6 1207.0,100.7 1208.4,102.0 1209.8,101.5 1211.3,102.6 1212.7,104.4 1214.2,104.0 1215.6,104.0 1217.0,104.4 1218.5,104.5 1219.9,106.0 1221.3,105.1 1222.8,102.6 1224.2,103.9 1225.6,102.7 1227.1,101.2 1228.5,100.7 1229.9,100.0 1231.4,99.0 1232.8,98.7 1234.3,98.9 1235.7,98.1 1237.1,99.9 1238.6,99.6 1240.0,100.7 1241.4,99.9 1242.9,100.0 1244.3,99.9 1245.7,99.6 1247.2,99.2 1248.6,100.1 1250.0,100.1 1251.5,102.1 1252.9,101.6 1254.4,102.0 1255.8,99.8 1257.2,100.2 1258.7,101.1 1260.1,101.1 1261.5,100.3 1263.0,99.9 1264.4,99.4 1265.8,98.7 1267.3,97.2 1268.7,99.4 1270.1,98.0 1271.6,96.9 1273.0,96.3 1274.5,97.0 1275.9,98.0 1277.3,100.2 1278.8,100.0 1280.2,99.9 1281.6,102.6 1283.1,102.9 1284.5,103.8 1285.9,105.1 1287.4,105.9 1288.8,105.6 1290.2,104.6 1291.7,105.9 1293.1,104.5 1294.6,103.5 1296.0,103.5 1297.4,103.9 1298.9,103.7 1300.3,103.9 1301.7,104.6 1303.2,104.6 1304.6,104.5 1306.0,105.7 1307.5,107.1 1308.9,107.0 1310.3,108.7 1311.8,109.2 1313.2,110.2 1314.7,109.7 1316.1,107.9 1317.5,107.6 1319.0,106.0 1320.4,106.0 1321.8,105.4 1323.3,105.3 1324.7,104.6 1326.1,105.4 1327.6,104.0 1329.0,104.3 1330.4,103.1 1331.9,102.3 1333.3,103.4 1334.8,103.7 1336.2,104.8 1337.6,104.1 1339.1,102.6 1340.5,102.7 1341.9,103.1 1343.4,104.3 1344.8,104.0 1346.2,104.7 1347.7,103.6 1349.1,104.7 1350.5,104.8 1352.0,104.9 1353.4,105.4 1354.9,107.3 1356.3,108.2 1357.7,109.6 1359.2,109.1 1360.6,109.9 1362.0,110.5 1363.5,110.8 1364.9,110.9 1366.3,108.0 1367.8,106.2 1369.2,106.1 1370.6,104.0 1372.1,103.3 1373.5,105.8 1375.0,107.3 1376.4,107.5 1377.8,106.2 1379.3,105.2 1380.7,104.4 1382.1,101.8 1383.6,101.0 1385.0,98.7 1386.4,97.8 1387.9,98.1 1389.3,99.5 1390.7,99.8 1392.2,101.8 1393.6,101.7 1395.1,102.6 1396.5,104.1 1397.9,104.9 1399.4,103.1 1400.8,103.7 1402.2,103.9 1403.7,102.3 1405.1,102.4 1406.5,100.9 1408.0,100.8 1409.4,99.2 1410.8,98.9 1412.3,98.9 1413.7,97.5 1415.2,96.8 1416.6,96.8 1418.0,93.6 1419.5,93.4 1420.9,94.1 1422.3,94.9 1423.8,95.5 1425.2,97.7 1426.6,97.7 1428.1,98.5 1429.5,100.9 1430.9,101.6 1432.4,102.8 1433.8,104.4 1435.3,104.6 1436.7,105.3 1438.1,104.5 1439.6,104.1 1441.0,104.3 1442.4,103.3 1443.9,103.3 1445.3,103.9 1446.7,102.3 1448.2,103.2 1449.6,99.9 1451.0,99.0 1452.5,99.2 1453.9,96.8 1455.4,98.5 1456.8,98.2 1458.2,100.2 1459.7,99.7 1461.1,101.2 1462.5,103.7 1464.0,104.9 1465.4,104.8 1466.8,105.0 1468.3,103.2 1469.7,102.9 1471.1,103.5 1472.6,103.6 1474.0,104.9 1475.5,104.5 1476.9,102.6 1478.3,102.5 1479.8,101.8 1481.2,102.3 1482.6,102.2 1484.1,103.1 1485.5,104.1 1486.9,103.6 1488.4,102.9 1489.8,104.1 1491.2,105.8 1492.7,106.9 1494.1,108.1 1495.6,108.7 1497.0,108.5 1498.4,107.5 1499.9,107.1 1501.3,104.8 1502.7,102.9 1504.2,101.9 1505.6,101.1 1507.0,101.0 1508.5,101.7 1509.9,102.1 1511.3,103.9 1512.8,103.5 1514.2,103.2 1515.7,104.0 1517.1,105.3 1518.5,106.5 1520.0,106.5 1521.4,106.7 1522.8,106.8 1524.3,107.8 1525.7,108.1 1527.1,109.4 1528.6,109.5 1530.0,112.5 1531.4,112.5 1532.9,111.9 1534.3,112.5 1535.8,110.7 1537.2,109.8 1538.6,108.5 1540.1,108.3 1541.5,107.7 1542.9,105.9 1544.4,104.1 1545.8,103.7 1547.2,102.7 1548.7,103.1 1550.1,103.5 1551.5,103.5 1553.0,104.3 1554.4,104.7 1555.9,107.0 1557.3,106.2 1558.7,108.4 1560.2,109.8 1561.6,109.7 1563.0,109.6 1564.5,109.2 1565.9,108.8 1567.3,109.3 1568.8,108.6 1570.2,107.8 1571.6,107.7 1573.1,106.6 1574.5,104.4 1576.0,103.4 1577.4,103.6 1578.8,104.1 1580.3,103.3 1581.7,103.2 1583.1,102.9 1584.6,102.1 1586.0,103.5 1587.4,105.0 1588.9,104.2 1590.3,105.9 1591.7,106.2 1593.2,107.0 1594.6,106.7 1596.1,107.0 1597.5,106.1 1598.9,104.1 1600.4,105.9 1601.8,106.1 1603.2,105.5 1604.7,104.4 1606.1,105.5 1607.5,105.4 1609.0,104.9 1610.4,105.4 1611.8,106.9 1613.3,104.7 1614.7,107.1 1616.2,107.5 1617.6,110.5 1619.0,110.6 1620.5,112.1 1621.9,111.2 1623.3,111.3 1624.8,109.8 1626.2,110.3"/>
</g>
<g fill="#262626" stroke="#262626" stroke-width="0.35" font-size="49.0">
<text transform="translate(190.5,1220.6) scale(0.9755,1)" text-anchor="middle">0</text>
<text transform="translate(477.6,1220.6) scale(0.9755,1)" text-anchor="middle">200</text>
<text transform="translate(764.8,1220.6) scale(0.9755,1)" text-anchor="middle">400</text>
<text transform="translate(1051.9,1220.6) scale(0.9755,1)" text-anchor="middle">600</text>
<text transform="translate(1339.1,1220.6) scale(0.9755,1)" text-anchor="middle">800</text>
<text transform="translate(1626.2,1220.6) scale(0.9755,1)" text-anchor="middle">1000</text>
<text transform="translate(173.8,1172.3) scale(0.9755,1)" text-anchor="end">0.2</text>
<text transform="translate(173.8,1034.2) scale(0.9755,1)" text-anchor="end">0.3</text>
<text transform="translate(173.8,896.0) scale(0.9755,1)" text-anchor="end">0.4</text>
<text transform="translate(173.8,757.9) scale(0.9755,1)" text-anchor="end">0.5</text>
<text transform="translate(173.8,619.8) scale(0.9755,1)" text-anchor="end">0.6</text>
<text transform="translate(173.8,481.7) scale(0.9755,1)" text-anchor="end">0.7</text>
<text transform="translate(173.8,343.5) scale(0.9755,1)" text-anchor="end">0.8</text>
<text transform="translate(173.8,205.4) scale(0.9755,1)" text-anchor="end">0.9</text>
<text transform="translate(173.8,67.3) scale(0.9755,1)" text-anchor="end">1</text>
</g>
<text x="908.6" y="1291" text-anchor="middle" font-size="52.5" fill="#262626" stroke="#262626" stroke-width="0.35">Number of scans</text>
<text transform="translate(84.9,601.7) rotate(-90)" text-anchor="middle" font-size="52.5" fill="#262626" stroke="#262626" stroke-width="0.35">Expected total ratio of discovered neighbors</text>
<rect x="1173" y="772" width="426" height="355" fill="#ffffff"/>
<g fill="#262626">
<rect x="1174" y="773" width="4" height="353"/>
<rect x="1594" y="773" width="4" height="353"/>
<rect x="1174" y="773" width="424" height="3"/>
<rect x="1174" y="1123" width="424" height="3"/>
</g>
<rect x="1194" y="812" width="104" height="5" fill="#ff0000"/>
<text x="1306.5" y="832.4" font-size="47.3" fill="#000000" stroke="#000000" stroke-width="0.3">Vmax=0</text>
<rect x="1194" y="880" width="104" height="4" fill="#00ff00"/>
<text x="1306.5" y="900.0" font-size="47.3" fill="#000000" stroke="#000000" stroke-width="0.3">Vmax=20m/s</text>
<rect x="1194" y="947" width="104" height="5" fill="#0000ff"/>
<text x="1306.5" y="967.6" font-size="47.3" fill="#000000" stroke="#000000" stroke-width="0.3">Vmax=40m/s</text>
<rect x="1194" y="1015" width="104" height="4" fill="#00ffff"/>
<text x="1306.5" y="1035.2" font-size="47.3" fill="#000000" stroke="#000000" stroke-width="0.3">Vmax=60m/s</text>
<rect x="1194" y="1083" width="104" height="4" fill="#ff00ff"/>
<text x="1306.5" y="1102.8" font-size="47.3" fill="#000000" stroke="#000000" stroke-width="0.3">Vmax=80m/s</text>
</svg></body></html>
